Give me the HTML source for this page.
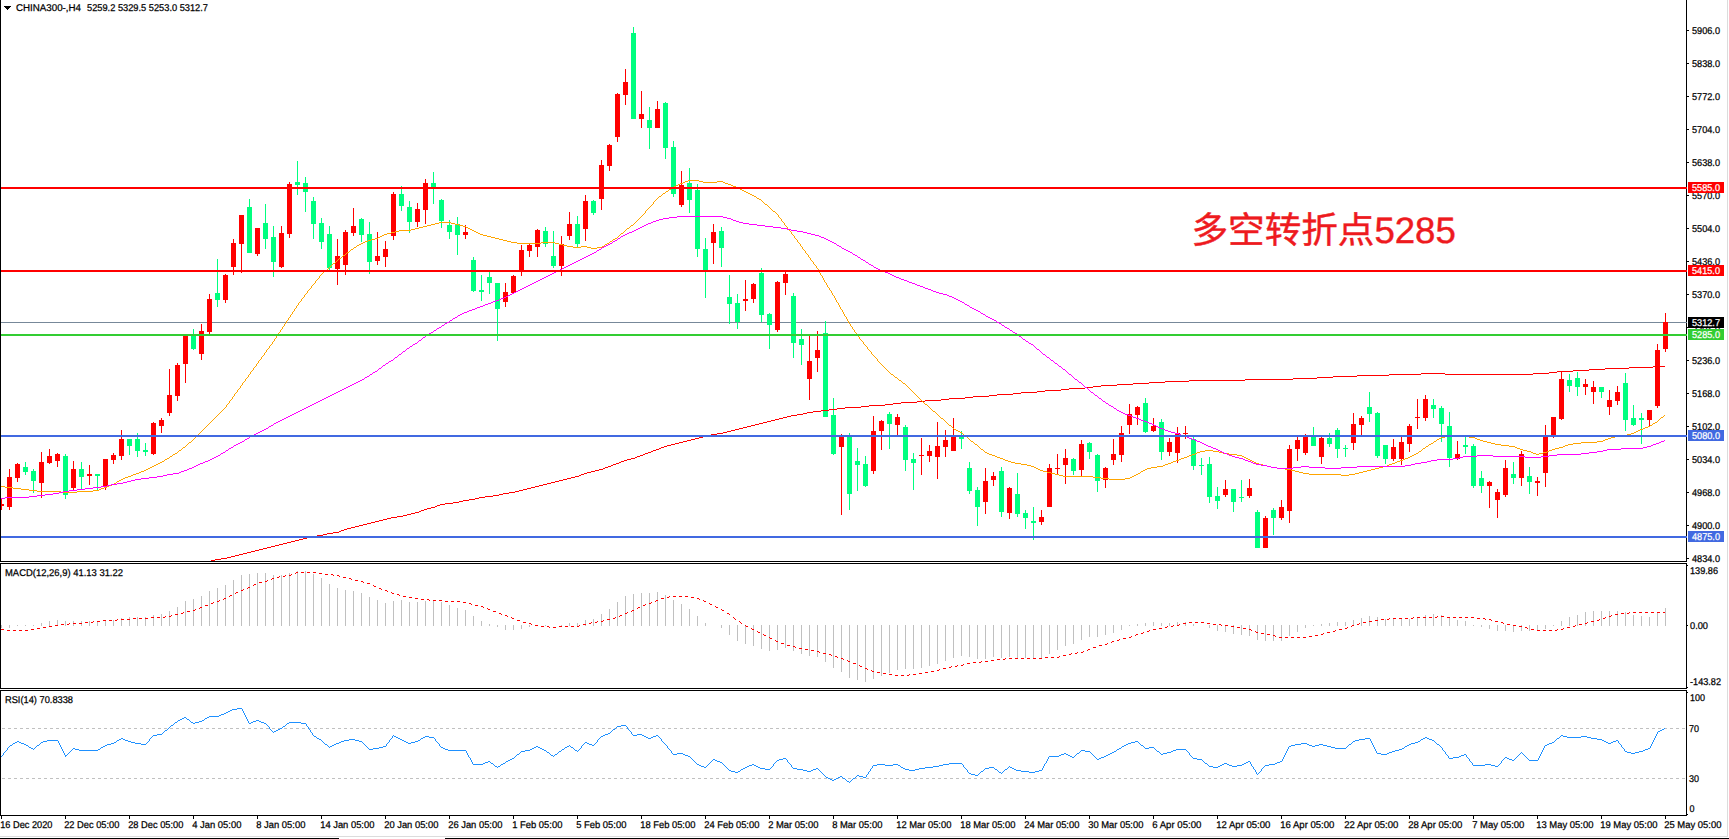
<!DOCTYPE html>
<html lang="zh"><head><meta charset="utf-8"><title>CHINA300 H4</title>
<style>html,body{margin:0;padding:0;background:#fff;overflow:hidden}svg{display:block}text{font-family:"Liberation Sans","Noto Sans CJK SC",sans-serif;font-size:9.8px;fill:#000;stroke:#000;stroke-width:.25px;text-rendering:geometricPrecision}.w{fill:#fff;stroke:#fff}.note{font-family:"Liberation Sans","Noto Sans CJK SC",sans-serif;font-size:36.6px;fill:#ee1a1e;font-weight:400;stroke:#ee1a1e;stroke-width:.45px}</style></head><body>
<svg width="1729" height="839" viewBox="0 0 1729 839">
<rect x="0" y="0" width="1729" height="839" fill="#fff"/>
<defs><clipPath id="cm"><rect x="1" y="0" width="1685" height="561"/></clipPath><clipPath id="cd"><rect x="1" y="564" width="1685" height="124"/></clipPath><clipPath id="cr"><rect x="1" y="691" width="1685" height="124"/></clipPath></defs>
<g clip-path="url(#cm)" shape-rendering="crispEdges">
<rect x="1" y="322" width="1685" height="1" fill="#778899"/>
<path fill="#00ff7f" d="M25 462h1v13h-1zM23 467h5v5h-5zM33 469h1v24h-1zM31 471h5v10h-5zM65 454h1v45h-1zM63 456h5v39h-5zM81 462h1v27h-1zM79 469h5v8h-5zM97 474h1v16h-1zM95 474h5v2h-5zM129 439h1v16h-1zM127 439h5v7h-5zM137 433h1v24h-1zM135 439h5v12h-5zM145 443h1v13h-1zM143 450h5v2h-5zM193 329h1v21h-1zM191 334h5v15h-5zM217 259h1v48h-1zM215 293h5v7h-5zM249 199h1v54h-1zM247 207h5v46h-5zM265 204h1v45h-1zM263 223h5v16h-5zM273 226h1v51h-1zM271 237h5v25h-5zM297 161h1v34h-1zM295 182h5v3h-5zM305 177h1v35h-1zM303 183h5v9h-5zM313 197h1v42h-1zM311 201h5v23h-5zM321 218h1v31h-1zM319 223h5v19h-5zM329 226h1v44h-1zM327 234h5v34h-5zM361 218h1v24h-1zM359 219h5v16h-5zM369 222h1v52h-1zM367 234h5v28h-5zM401 186h1v25h-1zM399 194h5v12h-5zM409 201h1v32h-1zM407 207h5v15h-5zM433 172h1v32h-1zM431 183h5v5h-5zM441 199h1v29h-1zM439 200h5v21h-5zM449 220h1v19h-1zM447 225h5v7h-5zM457 217h1v38h-1zM455 224h5v11h-5zM473 257h1v35h-1zM471 260h5v31h-5zM481 275h1v26h-1zM479 290h5v2h-5zM489 272h1v22h-1zM487 277h5v6h-5zM497 283h1v58h-1zM495 283h5v26h-5zM545 227h1v20h-1zM543 231h5v13h-5zM553 231h1v37h-1zM551 256h5v10h-5zM577 216h1v31h-1zM575 224h5v20h-5zM593 200h1v15h-1zM591 201h5v12h-5zM633 27h1v92h-1zM631 33h5v86h-5zM649 107h1v42h-1zM647 120h5v8h-5zM665 102h1v57h-1zM663 103h5v45h-5zM673 141h1v56h-1zM671 147h5v47h-5zM689 168h1v45h-1zM687 183h5v17h-5zM697 184h1v73h-1zM695 190h5v59h-5zM705 238h1v60h-1zM703 249h5v21h-5zM721 227h1v40h-1zM719 231h5v17h-5zM729 275h1v49h-1zM727 297h5v7h-5zM737 294h1v35h-1zM735 303h5v19h-5zM761 268h1v54h-1zM759 273h5v42h-5zM769 313h1v36h-1zM767 314h5v11h-5zM793 293h1v65h-1zM791 296h5v47h-5zM801 329h1v36h-1zM799 339h5v6h-5zM825 321h1v96h-1zM823 333h5v84h-5zM833 398h1v57h-1zM831 415h5v39h-5zM849 433h1v77h-1zM847 435h5v59h-5zM857 448h1v43h-1zM855 461h5v4h-5zM865 456h1v31h-1zM863 464h5v22h-5zM889 412h1v37h-1zM887 414h5v10h-5zM905 425h1v46h-1zM903 427h5v33h-5zM913 453h1v37h-1zM911 459h5v4h-5zM961 431h1v18h-1zM959 436h5v3h-5zM969 462h1v32h-1zM967 468h5v23h-5zM977 487h1v39h-1zM975 490h5v17h-5zM1001 467h1v50h-1zM999 471h5v41h-5zM1017 473h1v44h-1zM1015 494h5v20h-5zM1025 510h1v19h-1zM1023 513h5v5h-5zM1033 507h1v33h-1zM1031 521h5v2h-5zM1073 458h1v17h-1zM1071 459h5v12h-5zM1089 442h1v17h-1zM1087 443h5v9h-5zM1097 454h1v38h-1zM1095 455h5v26h-5zM1145 398h1v35h-1zM1143 403h5v29h-5zM1161 419h1v41h-1zM1159 422h5v30h-5zM1193 437h1v33h-1zM1191 439h5v27h-5zM1201 458h1v17h-1zM1199 465h5v1h-5zM1209 457h1v46h-1zM1207 464h5v33h-5zM1217 487h1v22h-1zM1215 496h5v5h-5zM1233 489h1v23h-1zM1231 489h5v13h-5zM1241 480h1v22h-1zM1239 497h5v1h-5zM1257 510h1v38h-1zM1255 512h5v36h-5zM1273 508h1v27h-1zM1271 510h5v8h-5zM1313 427h1v19h-1zM1311 435h5v11h-5zM1329 433h1v14h-1zM1327 438h5v6h-5zM1337 428h1v30h-1zM1335 430h5v19h-5zM1345 445h1v12h-1zM1343 448h5v1h-5zM1369 392h1v30h-1zM1367 407h5v7h-5zM1377 412h1v46h-1zM1375 413h5v43h-5zM1385 445h1v19h-1zM1383 445h5v14h-5zM1433 399h1v19h-1zM1431 405h5v4h-5zM1441 406h1v36h-1zM1439 408h5v16h-5zM1449 412h1v55h-1zM1447 426h5v32h-5zM1465 437h1v17h-1zM1463 445h5v2h-5zM1473 444h1v44h-1zM1471 446h5v40h-5zM1481 471h1v22h-1zM1479 478h5v8h-5zM1513 462h1v22h-1zM1511 474h5v4h-5zM1529 467h1v27h-1zM1527 476h5v6h-5zM1569 374h1v18h-1zM1567 380h5v6h-5zM1577 372h1v24h-1zM1575 378h5v9h-5zM1601 387h1v11h-1zM1599 387h5v5h-5zM1625 373h1v58h-1zM1623 383h5v37h-5zM1633 405h1v21h-1zM1631 418h5v7h-5zM1641 413h1v31h-1zM1639 418h5v2h-5z"/>
<path fill="#ff0000" d="M1 499h1v11h-1zM-1 504h5v2h-5zM9 469h1v41h-1zM7 477h5v30h-5zM17 463h1v19h-1zM15 464h5v14h-5zM41 452h1v46h-1zM39 462h5v21h-5zM49 449h1v15h-1zM47 456h5v7h-5zM57 453h1v14h-1zM55 454h5v7h-5zM73 461h1v29h-1zM71 469h5v19h-5zM89 465h1v20h-1zM87 474h5v2h-5zM105 459h1v31h-1zM103 459h5v28h-5zM113 453h1v11h-1zM111 455h5v5h-5zM121 430h1v30h-1zM119 439h5v17h-5zM153 422h1v33h-1zM151 423h5v31h-5zM161 418h1v15h-1zM159 420h5v6h-5zM169 369h1v47h-1zM167 395h5v18h-5zM177 363h1v38h-1zM175 365h5v31h-5zM185 334h1v49h-1zM183 334h5v30h-5zM201 324h1v36h-1zM199 331h5v23h-5zM209 294h1v40h-1zM207 299h5v33h-5zM225 274h1v29h-1zM223 275h5v25h-5zM233 239h1v36h-1zM231 243h5v24h-5zM241 215h1v58h-1zM239 215h5v29h-5zM257 228h1v28h-1zM255 228h5v26h-5zM281 226h1v42h-1zM279 233h5v34h-5zM289 182h1v56h-1zM287 184h5v50h-5zM337 239h1v46h-1zM335 256h5v13h-5zM345 230h1v45h-1zM343 232h5v33h-5zM353 208h1v28h-1zM351 226h5v7h-5zM377 232h1v33h-1zM375 256h5v5h-5zM385 241h1v26h-1zM383 249h5v8h-5zM393 192h1v48h-1zM391 194h5v42h-5zM417 203h1v24h-1zM415 209h5v13h-5zM425 179h1v45h-1zM423 183h5v27h-5zM465 225h1v14h-1zM463 232h5v3h-5zM505 283h1v24h-1zM503 292h5v10h-5zM513 275h1v18h-1zM511 276h5v17h-5zM521 245h1v31h-1zM519 250h5v20h-5zM529 243h1v14h-1zM527 245h5v6h-5zM537 229h1v28h-1zM535 230h5v17h-5zM561 236h1v40h-1zM559 244h5v22h-5zM569 212h1v28h-1zM567 224h5v12h-5zM585 195h1v46h-1zM583 201h5v28h-5zM601 160h1v50h-1zM599 165h5v34h-5zM609 144h1v27h-1zM607 145h5v21h-5zM617 93h1v49h-1zM615 94h5v43h-5zM625 69h1v36h-1zM623 82h5v13h-5zM641 91h1v37h-1zM639 114h5v5h-5zM657 101h1v27h-1zM655 109h5v19h-5zM681 171h1v36h-1zM679 185h5v20h-5zM713 224h1v40h-1zM711 232h5v11h-5zM745 280h1v31h-1zM743 299h5v2h-5zM753 283h1v20h-1zM751 284h5v15h-5zM777 281h1v51h-1zM775 282h5v48h-5zM785 272h1v23h-1zM783 274h5v9h-5zM809 334h1v66h-1zM807 361h5v18h-5zM817 331h1v41h-1zM815 350h5v8h-5zM841 434h1v81h-1zM839 435h5v12h-5zM873 416h1v58h-1zM871 431h5v40h-5zM881 420h1v30h-1zM879 421h5v10h-5zM897 414h1v21h-1zM895 417h5v8h-5zM921 438h1v37h-1zM919 455h5v1h-5zM929 445h1v17h-1zM927 451h5v5h-5zM937 422h1v57h-1zM935 446h5v11h-5zM945 430h1v27h-1zM943 440h5v7h-5zM953 418h1v33h-1zM951 435h5v16h-5zM985 468h1v46h-1zM983 481h5v21h-5zM993 472h1v14h-1zM991 476h5v4h-5zM1009 487h1v32h-1zM1007 488h5v25h-5zM1041 510h1v15h-1zM1039 517h5v5h-5zM1049 464h1v43h-1zM1047 468h5v39h-5zM1057 454h1v20h-1zM1055 468h5v1h-5zM1065 449h1v35h-1zM1063 458h5v7h-5zM1081 440h1v36h-1zM1079 444h5v26h-5zM1105 467h1v21h-1zM1103 468h5v12h-5zM1113 439h1v26h-1zM1111 454h5v6h-5zM1121 426h1v36h-1zM1119 433h5v22h-5zM1129 404h1v30h-1zM1127 414h5v11h-5zM1137 406h1v19h-1zM1135 407h5v8h-5zM1153 418h1v14h-1zM1151 426h5v5h-5zM1169 438h1v18h-1zM1167 442h5v10h-5zM1177 427h1v36h-1zM1175 433h5v20h-5zM1185 426h1v13h-1zM1183 433h5v1h-5zM1225 480h1v17h-1zM1223 489h5v6h-5zM1249 479h1v19h-1zM1247 488h5v8h-5zM1265 516h1v32h-1zM1263 518h5v30h-5zM1281 500h1v20h-1zM1279 507h5v11h-5zM1289 445h1v78h-1zM1287 449h5v62h-5zM1297 437h1v24h-1zM1295 440h5v9h-5zM1305 434h1v21h-1zM1303 435h5v18h-5zM1321 436h1v28h-1zM1319 438h5v19h-5zM1353 413h1v37h-1zM1351 424h5v19h-5zM1361 416h1v19h-1zM1359 418h5v7h-5zM1393 439h1v22h-1zM1391 447h5v12h-5zM1401 437h1v28h-1zM1399 442h5v17h-5zM1409 424h1v28h-1zM1407 426h5v18h-5zM1417 399h1v30h-1zM1415 417h5v1h-5zM1425 395h1v26h-1zM1423 399h5v19h-5zM1457 441h1v19h-1zM1455 454h5v5h-5zM1489 481h1v27h-1zM1487 482h5v4h-5zM1497 489h1v29h-1zM1495 492h5v8h-5zM1505 460h1v37h-1zM1503 468h5v27h-5zM1521 451h1v35h-1zM1519 454h5v24h-5zM1537 477h1v19h-1zM1535 481h5v2h-5zM1545 425h1v62h-1zM1543 436h5v37h-5zM1553 417h1v21h-1zM1551 417h5v19h-5zM1561 371h1v49h-1zM1559 379h5v40h-5zM1585 379h1v16h-1zM1583 384h5v3h-5zM1593 381h1v23h-1zM1591 387h5v5h-5zM1609 390h1v25h-1zM1607 400h5v7h-5zM1617 386h1v19h-1zM1615 392h5v9h-5zM1649 410h1v16h-1zM1647 410h5v10h-5zM1657 344h1v64h-1zM1655 350h5v56h-5zM1665 313h1v39h-1zM1663 322h5v27h-5z"/>
<path fill="#ff0000" d="M813 411h8v1h-8zM479 497h6v1h-6zM375 521h4v1h-4zM415 512h4v1h-4zM1133 383h16v1h-16zM997 394h16v1h-16zM1037 391h8v1h-8zM965 397h8v1h-8zM1389 374h32v1h-32zM1445 374h88v1h-88zM925 400h16v1h-16zM1421 373h24v1h-24zM1533 373h16v1h-16zM845 407h16v1h-16zM1149 382h16v1h-16zM1605 368h24v1h-24zM1189 380h56v1h-56zM869 405h16v1h-16zM403 515h4v1h-4zM837 408h8v1h-8zM635 457h2v1h-2zM539 485h4v1h-4zM661 447h3v1h-3zM1333 376h24v1h-24zM287 542h4v1h-4zM1101 385h16v1h-16zM624 460h3v1h-3zM527 488h4v1h-4zM1557 371h16v1h-16zM485 496h8v1h-8zM351 527h4v1h-4zM1245 379h48v1h-48zM619 462h2v1h-2zM1165 381h24v1h-24zM651 451h2v1h-2zM1013 393h8v1h-8zM515 491h4v1h-4zM1629 367h24v1h-24zM885 404h8v1h-8zM341 530h3v1h-3zM608 466h3v1h-3zM327 533h6v1h-6zM1573 370h16v1h-16zM797 414h6v1h-6zM1069 388h16v1h-16zM973 396h16v1h-16zM653 450h3v1h-3zM283 543h4v1h-4zM1045 390h16v1h-16zM941 399h8v1h-8zM1293 378h24v1h-24zM783 417h4v1h-4zM271 546h4v1h-4zM239 554h4v1h-4zM611 465h2v1h-2zM643 454h2v1h-2zM771 420h4v1h-4zM807 412h6v1h-6zM637 456h3v1h-3zM735 429h4v1h-4zM227 557h4v1h-4zM291 541h4v1h-4zM599 469h4v1h-4zM463 500h6v1h-6zM221 558h6v1h-6zM791 415h6v1h-6zM627 459h4v1h-4zM901 402h16v1h-16zM723 432h4v1h-4zM787 416h4v1h-4zM755 424h4v1h-4zM587 472h4v1h-4zM821 410h8v1h-8zM445 503h8v1h-8zM208 561h3v1h-3zM243 553h4v1h-4zM711 434h6v1h-6zM640 455h3v1h-3zM699 437h4v1h-4zM949 398h16v1h-16zM459 501h4v1h-4zM427 508h4v1h-4zM861 406h8v1h-8zM387 518h4v1h-4zM687 440h4v1h-4zM421 510h3v1h-3zM559 480h4v1h-4zM1589 369h16v1h-16zM1357 375h32v1h-32zM675 443h4v1h-4zM1117 384h16v1h-16zM547 483h4v1h-4zM1085 387h8v1h-8zM917 401h8v1h-8zM739 428h4v1h-4zM535 486h4v1h-4zM503 493h6v1h-6zM363 524h4v1h-4zM829 409h8v1h-8zM523 489h4v1h-4zM509 492h6v1h-6zM303 538h4v1h-4zM1653 366h12v1h-12zM333 532h6v1h-6zM397 516h6v1h-6zM355 526h4v1h-4zM1021 392h16v1h-16zM279 544h4v1h-4zM215 559h6v1h-6zM779 418h4v1h-4zM893 403h8v1h-8zM339 531h2v1h-2zM743 427h4v1h-4zM767 421h4v1h-4zM437 505h3v1h-3zM267 547h4v1h-4zM989 395h8v1h-8zM731 430h4v1h-4zM595 470h4v1h-4zM255 550h4v1h-4zM584 473h3v1h-3zM205 562h3v1h-3zM231 556h4v1h-4zM435 506h2v1h-2zM359 525h4v1h-4zM1317 377h16v1h-16zM717 433h6v1h-6zM1093 386h8v1h-8zM411 513h4v1h-4zM475 498h4v1h-4zM371 522h4v1h-4zM499 494h4v1h-4zM659 448h2v1h-2zM1061 389h8v1h-8zM683 441h4v1h-4zM347 528h4v1h-4zM551 482h4v1h-4zM605 467h3v1h-3zM323 534h4v1h-4zM247 552h4v1h-4zM311 536h6v1h-6zM707 435h4v1h-4zM631 458h4v1h-4zM695 438h4v1h-4zM567 478h4v1h-4zM759 423h4v1h-4zM424 509h3v1h-3zM555 481h4v1h-4zM519 490h4v1h-4zM616 463h3v1h-3zM469 499h6v1h-6zM671 444h4v1h-4zM299 539h4v1h-4zM603 468h2v1h-2zM763 422h4v1h-4zM648 452h3v1h-3zM275 545h4v1h-4zM201 564h2v1h-2zM803 413h4v1h-4zM263 548h4v1h-4zM251 551h4v1h-4zM591 471h4v1h-4zM747 426h4v1h-4zM581 474h3v1h-3zM203 563h2v1h-2zM391 517h6v1h-6zM493 495h6v1h-6zM1549 372h8v1h-8zM407 514h4v1h-4zM571 477h4v1h-4zM656 449h3v1h-3zM383 519h4v1h-4zM613 464h3v1h-3zM211 560h4v1h-4zM440 504h5v1h-5zM431 507h4v1h-4zM691 439h4v1h-4zM453 502h6v1h-6zM621 461h3v1h-3zM679 442h4v1h-4zM703 436h4v1h-4zM667 445h4v1h-4zM307 537h4v1h-4zM295 540h4v1h-4zM317 535h6v1h-6zM259 549h4v1h-4zM235 555h4v1h-4zM543 484h4v1h-4zM531 487h4v1h-4zM645 453h3v1h-3zM775 419h4v1h-4zM751 425h4v1h-4zM579 475h2v1h-2zM727 431h4v1h-4zM664 446h3v1h-3zM419 511h2v1h-2zM379 520h4v1h-4zM367 523h4v1h-4zM344 529h3v1h-3zM575 476h4v1h-4zM563 479h4v1h-4z"/>
<path fill="#ffa500" d="M285 323h1v1h-1zM849 323h1v1h-1zM133 474h3v1h-3zM1055 474h4v1h-4zM1136 474h2v1h-2zM1309 474h32v1h-32zM1349 474h6v1h-6zM165 459h2v1h-2zM1003 459h2v1h-2zM1179 459h2v1h-2zM1248 459h2v1h-2zM1403 459h2v1h-2zM384 234h3v1h-3zM480 234h3v1h-3zM620 234h1v1h-1zM792 234h1v1h-1zM267 349h1v1h-1zM868 349h1v1h-1zM186 445h1v1h-1zM977 445h1v1h-1zM1428 445h1v1h-1zM1501 445h8v1h-8zM1565 445h3v1h-3zM281 329h1v1h-1zM853 329h1v1h-1zM150 467h2v1h-2zM1034 467h2v1h-2zM1151 467h6v1h-6zM1271 467h6v1h-6zM1379 467h4v1h-4zM139 472h2v1h-2zM1047 472h4v1h-4zM1140 472h1v1h-1zM1299 472h4v1h-4zM1359 472h4v1h-4zM192 440h1v1h-1zM970 440h1v1h-1zM1436 440h1v1h-1zM1480 440h3v1h-3zM1603 440h2v1h-2zM315 281h1v1h-1zM824 281h1v1h-1zM322 273h1v1h-1zM820 273h1v1h-1zM683 182h2v1h-2zM703 182h14v1h-14zM723 182h2v1h-2zM330 266h1v1h-1zM816 266h1v1h-1zM154 465h2v1h-2zM1027 465h4v1h-4zM1163 465h2v1h-2zM1263 465h4v1h-4zM1387 465h2v1h-2zM229 402h1v1h-1zM923 402h1v1h-1zM169 457h1v1h-1zM997 457h3v1h-3zM1184 457h3v1h-3zM1244 457h2v1h-2zM1408 457h2v1h-2zM125 477h3v1h-3zM1093 477h8v1h-8zM1130 477h2v1h-2zM195 437h1v1h-1zM967 437h1v1h-1zM1441 437h4v1h-4zM1469 437h6v1h-6zM1611 437h4v1h-4zM13 488h8v1h-8zM101 488h3v1h-3zM688 180h11v1h-11zM354 247h2v1h-2zM573 247h8v1h-8zM587 247h4v1h-4zM597 247h5v1h-5zM802 247h1v1h-1zM148 468h2v1h-2zM1036 468h2v1h-2zM1147 468h4v1h-4zM1277 468h8v1h-8zM1375 468h4v1h-4zM363 242h2v1h-2zM511 242h6v1h-6zM541 242h14v1h-14zM609 242h1v1h-1zM798 242h1v1h-1zM646 210h1v1h-1zM772 210h1v1h-1zM144 470h2v1h-2zM1040 470h3v1h-3zM1143 470h2v1h-2zM1291 470h4v1h-4zM1367 470h4v1h-4zM128 476h3v1h-3zM1063 476h30v1h-30zM1132 476h2v1h-2zM152 466h2v1h-2zM1031 466h3v1h-3zM1157 466h6v1h-6zM1267 466h4v1h-4zM1383 466h4v1h-4zM294 309h1v1h-1zM841 309h1v1h-1zM655 200h1v1h-1zM761 200h1v1h-1zM645 211h1v1h-1zM773 211h2v1h-2zM123 478h2v1h-2zM1101 478h8v1h-8zM1125 478h5v1h-5zM395 231h4v1h-4zM474 231h2v1h-2zM624 231h1v1h-1zM790 231h1v1h-1zM199 433h1v1h-1zM962 433h1v1h-1zM1631 433h3v1h-3zM294 310h1v1h-1zM842 310h1v1h-1zM378 237h2v1h-2zM491 237h4v1h-4zM617 237h1v1h-1zM794 237h1v1h-1zM185 446h1v1h-1zM978 446h1v1h-1zM1426 446h2v1h-2zM1509 446h6v1h-6zM1563 446h2v1h-2zM196 436h1v1h-1zM965 436h2v1h-2zM1445 436h8v1h-8zM1461 436h8v1h-8zM1615 436h6v1h-6zM172 455h1v1h-1zM992 455h3v1h-3zM1189 455h3v1h-3zM1237 455h5v1h-5zM1412 455h2v1h-2zM361 243h2v1h-2zM517 243h24v1h-24zM555 243h4v1h-4zM607 243h2v1h-2zM799 243h1v1h-1zM298 303h1v1h-1zM838 303h1v1h-1zM177 452h1v1h-1zM985 452h2v1h-2zM1197 452h3v1h-3zM1219 452h4v1h-4zM1418 452h1v1h-1zM1531 452h2v1h-2zM1543 452h4v1h-4zM189 442h2v1h-2zM973 442h1v1h-1zM1433 442h1v1h-1zM1487 442h4v1h-4zM1581 442h16v1h-16zM387 233h4v1h-4zM478 233h2v1h-2zM621 233h2v1h-2zM791 233h1v1h-1zM246 378h1v1h-1zM897 378h1v1h-1zM160 462h2v1h-2zM1011 462h4v1h-4zM1171 462h2v1h-2zM1254 462h2v1h-2zM1395 462h2v1h-2zM203 429h1v1h-1zM954 429h2v1h-2zM1640 429h3v1h-3zM357 245h2v1h-2zM563 245h4v1h-4zM604 245h1v1h-1zM800 245h1v1h-1zM167 458h2v1h-2zM1000 458h3v1h-3zM1181 458h3v1h-3zM1246 458h2v1h-2zM1405 458h3v1h-3zM427 225h4v1h-4zM459 225h4v1h-4zM631 225h2v1h-2zM785 225h1v1h-1zM205 427h1v1h-1zM952 427h1v1h-1zM1645 427h3v1h-3zM156 464h2v1h-2zM1021 464h6v1h-6zM1165 464h3v1h-3zM1259 464h4v1h-4zM1389 464h3v1h-3zM191 441h1v1h-1zM971 441h2v1h-2zM1434 441h2v1h-2zM1483 441h4v1h-4zM1597 441h6v1h-6zM308 290h1v1h-1zM830 290h1v1h-1zM61 492h16v1h-16zM304 295h1v1h-1zM833 295h1v1h-1zM170 456h2v1h-2zM995 456h2v1h-2zM1187 456h2v1h-2zM1242 456h2v1h-2zM1410 456h2v1h-2zM304 296h1v1h-1zM834 296h1v1h-1zM375 238h3v1h-3zM495 238h4v1h-4zM615 238h2v1h-2zM795 238h1v1h-1zM158 463h2v1h-2zM1015 463h6v1h-6zM1168 463h3v1h-3zM1256 463h3v1h-3zM1392 463h3v1h-3zM663 193h2v1h-2zM748 193h2v1h-2zM669 189h2v1h-2zM740 189h2v1h-2zM182 448h1v1h-1zM980 448h1v1h-1zM1423 448h2v1h-2zM1517 448h3v1h-3zM1555 448h4v1h-4zM668 190h1v1h-1zM742 190h2v1h-2zM175 453h2v1h-2zM987 453h2v1h-2zM1195 453h2v1h-2zM1223 453h6v1h-6zM1416 453h2v1h-2zM1533 453h3v1h-3zM1539 453h4v1h-4zM674 186h2v1h-2zM733 186h3v1h-3zM234 394h1v1h-1zM915 394h1v1h-1zM350 250h1v1h-1zM804 250h1v1h-1zM279 332h1v1h-1zM855 332h1v1h-1zM680 183h3v1h-3zM725 183h3v1h-3zM336 261h1v1h-1zM812 261h1v1h-1zM419 227h4v1h-4zM466 227h2v1h-2zM629 227h1v1h-1zM787 227h1v1h-1zM342 256h1v1h-1zM808 256h1v1h-1zM275 338h1v1h-1zM859 338h1v1h-1zM29 490h8v1h-8zM93 490h6v1h-6zM178 451h1v1h-1zM984 451h1v1h-1zM1200 451h5v1h-5zM1213 451h6v1h-6zM1419 451h2v1h-2zM1527 451h4v1h-4zM1547 451h2v1h-2zM136 473h3v1h-3zM1051 473h4v1h-4zM1138 473h2v1h-2zM1303 473h6v1h-6zM1355 473h4v1h-4zM238 389h1v1h-1zM910 389h1v1h-1zM319 276h1v1h-1zM822 276h1v1h-1zM181 449h1v1h-1zM981 449h2v1h-2zM1422 449h1v1h-1zM1520 449h3v1h-3zM1552 449h3v1h-3zM671 188h2v1h-2zM738 188h2v1h-2zM206 426h1v1h-1zM951 426h1v1h-1zM1648 426h2v1h-2zM210 422h1v1h-1zM946 422h1v1h-1zM1655 422h2v1h-2zM415 228h4v1h-4zM468 228h2v1h-2zM627 228h2v1h-2zM787 228h1v1h-1zM225 407h1v1h-1zM929 407h1v1h-1zM278 333h1v1h-1zM856 333h1v1h-1zM365 241h3v1h-3zM507 241h4v1h-4zM610 241h2v1h-2zM797 241h1v1h-1zM399 230h12v1h-12zM472 230h2v1h-2zM625 230h1v1h-1zM789 230h1v1h-1zM288 319h1v1h-1zM847 319h1v1h-1zM292 312h1v1h-1zM843 312h1v1h-1zM200 432h1v1h-1zM960 432h2v1h-2zM1634 432h2v1h-2zM371 239h4v1h-4zM499 239h4v1h-4zM613 239h2v1h-2zM796 239h1v1h-1zM343 255h2v1h-2zM808 255h1v1h-1zM162 461h2v1h-2zM1008 461h3v1h-3zM1173 461h3v1h-3zM1252 461h2v1h-2zM1397 461h3v1h-3zM431 224h4v1h-4zM455 224h4v1h-4zM633 224h1v1h-1zM784 224h1v1h-1zM209 423h1v1h-1zM947 423h1v1h-1zM1653 423h2v1h-2zM637 220h1v1h-1zM781 220h1v1h-1zM197 435h1v1h-1zM964 435h1v1h-1zM1453 435h8v1h-8zM1621 435h6v1h-6zM657 198h1v1h-1zM757 198h2v1h-2zM141 471h3v1h-3zM1043 471h4v1h-4zM1141 471h2v1h-2zM1295 471h4v1h-4zM1363 471h4v1h-4zM261 358h1v1h-1zM876 358h1v1h-1zM1 486h4v1h-4zM107 486h2v1h-2zM260 359h1v1h-1zM877 359h1v1h-1zM351 249h2v1h-2zM803 249h1v1h-1zM194 438h1v1h-1zM968 438h1v1h-1zM1439 438h2v1h-2zM1475 438h2v1h-2zM1608 438h3v1h-3zM193 439h1v1h-1zM969 439h1v1h-1zM1437 439h2v1h-2zM1477 439h3v1h-3zM1605 439h3v1h-3zM649 207h1v1h-1zM769 207h1v1h-1zM146 469h2v1h-2zM1038 469h2v1h-2zM1145 469h2v1h-2zM1285 469h6v1h-6zM1371 469h4v1h-4zM173 454h2v1h-2zM989 454h3v1h-3zM1192 454h3v1h-3zM1229 454h8v1h-8zM1414 454h2v1h-2zM1536 454h3v1h-3zM272 342h1v1h-1zM863 342h1v1h-1zM638 219h1v1h-1zM781 219h1v1h-1zM644 213h1v1h-1zM776 213h1v1h-1zM215 417h1v1h-1zM940 417h1v1h-1zM1661 417h2v1h-2zM353 248h1v1h-1zM591 248h6v1h-6zM802 248h1v1h-1zM268 348h1v1h-1zM867 348h1v1h-1zM338 259h1v1h-1zM810 259h1v1h-1zM678 184h2v1h-2zM728 184h3v1h-3zM237 391h1v1h-1zM912 391h1v1h-1zM311 287h1v1h-1zM828 287h1v1h-1zM236 392h1v1h-1zM913 392h1v1h-1zM204 428h1v1h-1zM953 428h1v1h-1zM1643 428h2v1h-2zM435 223h4v1h-4zM451 223h4v1h-4zM634 223h1v1h-1zM784 223h1v1h-1zM187 444h1v1h-1zM975 444h2v1h-2zM1429 444h2v1h-2zM1495 444h6v1h-6zM1568 444h5v1h-5zM216 416h1v1h-1zM939 416h1v1h-1zM1663 416h1v1h-1zM659 196h2v1h-2zM754 196h2v1h-2zM121 479h2v1h-2zM1109 479h16v1h-16zM256 364h1v1h-1zM881 364h1v1h-1zM676 185h2v1h-2zM731 185h2v1h-2zM251 371h1v1h-1zM888 371h1v1h-1zM119 480h2v1h-2zM212 420h1v1h-1zM944 420h1v1h-1zM1658 420h1v1h-1zM232 398h1v1h-1zM919 398h1v1h-1zM5 487h8v1h-8zM104 487h3v1h-3zM325 270h2v1h-2zM818 270h1v1h-1zM290 316h1v1h-1zM845 316h1v1h-1zM391 232h4v1h-4zM476 232h2v1h-2zM623 232h1v1h-1zM791 232h1v1h-1zM37 491h24v1h-24zM77 491h16v1h-16zM380 236h2v1h-2zM487 236h4v1h-4zM618 236h1v1h-1zM794 236h1v1h-1zM219 413h1v1h-1zM936 413h1v1h-1zM183 447h2v1h-2zM979 447h1v1h-1zM1425 447h1v1h-1zM1515 447h2v1h-2zM1559 447h4v1h-4zM250 373h1v1h-1zM890 373h1v1h-1zM235 393h1v1h-1zM914 393h1v1h-1zM276 337h1v1h-1zM859 337h1v1h-1zM359 244h2v1h-2zM559 244h4v1h-4zM605 244h2v1h-2zM800 244h1v1h-1zM423 226h4v1h-4zM463 226h3v1h-3zM630 226h1v1h-1zM786 226h1v1h-1zM230 400h1v1h-1zM921 400h1v1h-1zM283 326h1v1h-1zM851 326h1v1h-1zM333 263h2v1h-2zM813 263h1v1h-1zM266 351h1v1h-1zM870 351h1v1h-1zM673 187h1v1h-1zM736 187h2v1h-2zM227 404h1v1h-1zM925 404h2v1h-2zM293 311h1v1h-1zM842 311h1v1h-1zM411 229h4v1h-4zM470 229h2v1h-2zM626 229h1v1h-1zM788 229h1v1h-1zM439 222h12v1h-12zM635 222h1v1h-1zM783 222h1v1h-1zM645 212h1v1h-1zM775 212h1v1h-1zM643 214h1v1h-1zM777 214h1v1h-1zM341 257h1v1h-1zM809 257h1v1h-1zM179 450h2v1h-2zM983 450h1v1h-1zM1205 450h8v1h-8zM1421 450h1v1h-1zM1523 450h4v1h-4zM1549 450h3v1h-3zM207 425h1v1h-1zM949 425h2v1h-2zM1650 425h2v1h-2zM201 431h1v1h-1zM958 431h2v1h-2zM1636 431h2v1h-2zM317 279h1v1h-1zM823 279h1v1h-1zM313 284h1v1h-1zM826 284h1v1h-1zM648 208h1v1h-1zM770 208h1v1h-1zM273 341h1v1h-1zM862 341h1v1h-1zM647 209h1v1h-1zM771 209h1v1h-1zM666 191h2v1h-2zM744 191h2v1h-2zM321 274h1v1h-1zM820 274h1v1h-1zM290 315h1v1h-1zM844 315h1v1h-1zM287 320h1v1h-1zM847 320h1v1h-1zM164 460h1v1h-1zM1005 460h3v1h-3zM1176 460h3v1h-3zM1250 460h2v1h-2zM1400 460h3v1h-3zM316 280h1v1h-1zM824 280h1v1h-1zM685 181h3v1h-3zM699 181h4v1h-4zM717 181h6v1h-6zM332 264h1v1h-1zM814 264h1v1h-1zM264 354h1v1h-1zM872 354h1v1h-1zM131 475h2v1h-2zM1059 475h4v1h-4zM1134 475h2v1h-2zM1341 475h8v1h-8zM226 406h1v1h-1zM928 406h1v1h-1zM261 357h1v1h-1zM875 357h1v1h-1zM305 294h1v1h-1zM832 294h1v1h-1zM368 240h3v1h-3zM503 240h4v1h-4zM612 240h1v1h-1zM797 240h1v1h-1zM301 300h1v1h-1zM836 300h1v1h-1zM214 418h1v1h-1zM941 418h2v1h-2zM1660 418h1v1h-1zM642 215h1v1h-1zM778 215h1v1h-1zM252 370h1v1h-1zM887 370h1v1h-1zM116 482h1v1h-1zM315 282h1v1h-1zM825 282h1v1h-1zM188 443h1v1h-1zM974 443h1v1h-1zM1431 443h2v1h-2zM1491 443h4v1h-4zM1573 443h8v1h-8zM255 366h1v1h-1zM883 366h1v1h-1zM307 291h1v1h-1zM831 291h1v1h-1zM327 269h1v1h-1zM818 269h1v1h-1zM240 386h1v1h-1zM907 386h1v1h-1zM289 317h1v1h-1zM846 317h1v1h-1zM198 434h1v1h-1zM963 434h1v1h-1zM1627 434h4v1h-4zM117 481h2v1h-2zM298 304h1v1h-1zM838 304h1v1h-1zM211 421h1v1h-1zM945 421h1v1h-1zM1657 421h1v1h-1zM231 399h1v1h-1zM920 399h1v1h-1zM262 356h1v1h-1zM874 356h1v1h-1zM356 246h1v1h-1zM567 246h6v1h-6zM581 246h6v1h-6zM602 246h2v1h-2zM801 246h1v1h-1zM208 424h1v1h-1zM948 424h1v1h-1zM1652 424h1v1h-1zM303 297h1v1h-1zM834 297h1v1h-1zM302 298h1v1h-1zM835 298h1v1h-1zM640 217h1v1h-1zM779 217h1v1h-1zM639 218h1v1h-1zM780 218h1v1h-1zM239 388h1v1h-1zM909 388h1v1h-1zM234 395h1v1h-1zM916 395h1v1h-1zM278 334h1v1h-1zM856 334h1v1h-1zM282 327h1v1h-1zM852 327h1v1h-1zM109 485h3v1h-3zM318 278h1v1h-1zM823 278h1v1h-1zM314 283h1v1h-1zM826 283h1v1h-1zM650 206h1v1h-1zM768 206h1v1h-1zM291 314h1v1h-1zM844 314h1v1h-1zM222 410h1v1h-1zM932 410h1v1h-1zM339 258h2v1h-2zM810 258h1v1h-1zM266 350h1v1h-1zM869 350h1v1h-1zM21 489h8v1h-8zM99 489h2v1h-2zM259 360h1v1h-1zM877 360h1v1h-1zM233 396h1v1h-1zM917 396h1v1h-1zM309 289h1v1h-1zM829 289h1v1h-1zM272 343h1v1h-1zM863 343h1v1h-1zM257 363h1v1h-1zM880 363h1v1h-1zM347 252h2v1h-2zM805 252h1v1h-1zM320 275h1v1h-1zM821 275h1v1h-1zM661 195h1v1h-1zM752 195h2v1h-2zM382 235h2v1h-2zM483 235h4v1h-4zM619 235h1v1h-1zM793 235h1v1h-1zM277 335h1v1h-1zM857 335h1v1h-1zM276 336h1v1h-1zM858 336h1v1h-1zM297 305h1v1h-1zM839 305h1v1h-1zM337 260h1v1h-1zM811 260h1v1h-1zM220 412h1v1h-1zM935 412h1v1h-1zM245 379h1v1h-1zM898 379h1v1h-1zM256 365h1v1h-1zM882 365h1v1h-1zM319 277h1v1h-1zM822 277h1v1h-1zM114 483h2v1h-2zM258 361h1v1h-1zM878 361h1v1h-1zM335 262h1v1h-1zM813 262h1v1h-1zM224 408h1v1h-1zM930 408h1v1h-1zM258 362h1v1h-1zM879 362h1v1h-1zM223 409h1v1h-1zM931 409h1v1h-1zM244 381h1v1h-1zM901 381h1v1h-1zM274 339h1v1h-1zM860 339h1v1h-1zM253 368h1v1h-1zM885 368h1v1h-1zM636 221h1v1h-1zM782 221h1v1h-1zM218 414h1v1h-1zM937 414h1v1h-1zM286 322h1v1h-1zM848 322h1v1h-1zM654 201h1v1h-1zM762 201h1v1h-1zM249 374h1v1h-1zM891 374h2v1h-2zM221 411h1v1h-1zM933 411h2v1h-2zM641 216h1v1h-1zM778 216h1v1h-1zM331 265h1v1h-1zM815 265h1v1h-1zM653 203h1v1h-1zM764 203h1v1h-1zM328 268h1v1h-1zM817 268h1v1h-1zM300 301h1v1h-1zM836 301h1v1h-1zM295 308h1v1h-1zM840 308h1v1h-1zM296 306h1v1h-1zM839 306h1v1h-1zM292 313h1v1h-1zM843 313h1v1h-1zM307 292h1v1h-1zM831 292h1v1h-1zM217 415h1v1h-1zM938 415h1v1h-1zM1664 415h1v1h-1zM240 387h1v1h-1zM908 387h1v1h-1zM288 318h1v1h-1zM846 318h1v1h-1zM284 324h1v1h-1zM850 324h1v1h-1zM271 344h1v1h-1zM864 344h1v1h-1zM270 345h1v1h-1zM865 345h1v1h-1zM248 376h1v1h-1zM894 376h1v1h-1zM226 405h1v1h-1zM927 405h1v1h-1zM228 403h1v1h-1zM924 403h1v1h-1zM243 382h1v1h-1zM902 382h1v1h-1zM301 299h1v1h-1zM835 299h1v1h-1zM286 321h1v1h-1zM848 321h1v1h-1zM282 328h1v1h-1zM852 328h1v1h-1zM229 401h1v1h-1zM922 401h1v1h-1zM242 383h1v1h-1zM903 383h2v1h-2zM202 430h1v1h-1zM956 430h2v1h-2zM1638 430h2v1h-2zM312 285h1v1h-1zM827 285h1v1h-1zM349 251h1v1h-1zM805 251h1v1h-1zM662 194h1v1h-1zM750 194h2v1h-2zM213 419h1v1h-1zM943 419h1v1h-1zM1659 419h1v1h-1zM653 202h1v1h-1zM763 202h1v1h-1zM269 346h1v1h-1zM866 346h1v1h-1zM324 271h1v1h-1zM819 271h1v1h-1zM237 390h1v1h-1zM911 390h1v1h-1zM245 380h1v1h-1zM899 380h2v1h-2zM296 307h1v1h-1zM840 307h1v1h-1zM254 367h1v1h-1zM884 367h1v1h-1zM253 369h1v1h-1zM886 369h1v1h-1zM248 375h1v1h-1zM893 375h1v1h-1zM274 340h1v1h-1zM861 340h1v1h-1zM280 331h1v1h-1zM854 331h1v1h-1zM346 253h1v1h-1zM806 253h1v1h-1zM265 352h1v1h-1zM871 352h1v1h-1zM651 205h1v1h-1zM767 205h1v1h-1zM112 484h2v1h-2zM329 267h1v1h-1zM816 267h1v1h-1zM263 355h1v1h-1zM873 355h1v1h-1zM658 197h1v1h-1zM756 197h1v1h-1zM284 325h1v1h-1zM850 325h1v1h-1zM232 397h1v1h-1zM918 397h1v1h-1zM280 330h1v1h-1zM854 330h1v1h-1zM311 286h1v1h-1zM827 286h1v1h-1zM345 254h1v1h-1zM807 254h1v1h-1zM323 272h1v1h-1zM819 272h1v1h-1zM250 372h1v1h-1zM889 372h1v1h-1zM656 199h1v1h-1zM759 199h2v1h-2zM299 302h1v1h-1zM837 302h1v1h-1zM306 293h1v1h-1zM832 293h1v1h-1zM269 347h1v1h-1zM867 347h1v1h-1zM665 192h1v1h-1zM746 192h2v1h-2zM247 377h1v1h-1zM895 377h2v1h-2zM310 288h1v1h-1zM829 288h1v1h-1zM242 384h1v1h-1zM905 384h1v1h-1zM652 204h1v1h-1zM765 204h2v1h-2zM241 385h1v1h-1zM906 385h1v1h-1zM264 353h1v1h-1zM871 353h1v1h-1z"/>
<path fill="#ff00ff" d="M231 447h2v1h-2zM1211 447h2v1h-2zM1643 447h4v1h-4zM214 457h2v1h-2zM1235 457h4v1h-4zM1459 457h4v1h-4zM1525 457h16v1h-16zM238 443h2v1h-2zM1202 443h2v1h-2zM1656 443h3v1h-3zM564 267h2v1h-2zM874 267h2v1h-2zM597 250h2v1h-2zM846 250h2v1h-2zM210 459h2v1h-2zM1243 459h2v1h-2zM1437 459h16v1h-16zM508 295h2v1h-2zM947 295h2v1h-2zM588 255h2v1h-2zM855 255h2v1h-2zM596 251h1v1h-1zM848 251h2v1h-2zM296 412h2v1h-2zM1121 412h2v1h-2zM242 441h2v1h-2zM1197 441h3v1h-3zM1661 441h3v1h-3zM192 467h2v1h-2zM1271 467h6v1h-6zM1293 467h8v1h-8zM1309 467h16v1h-16zM1341 467h16v1h-16zM477 307h3v1h-3zM970 307h2v1h-2zM208 460h2v1h-2zM1245 460h3v1h-3zM1431 460h6v1h-6zM378 369h1v1h-1zM1063 369h2v1h-2zM504 297h2v1h-2zM952 297h2v1h-2zM472 309h3v1h-3zM974 309h2v1h-2zM677 216h46v1h-46zM194 466h2v1h-2zM1267 466h4v1h-4zM1301 466h8v1h-8zM1357 466h48v1h-48zM362 379h2v1h-2zM1075 379h2v1h-2zM344 388h2v1h-2zM1087 388h1v1h-1zM258 432h2v1h-2zM1171 432h4v1h-4zM69 490h8v1h-8zM173 473h6v1h-6zM260 431h2v1h-2zM1168 431h3v1h-3zM221 453h2v1h-2zM1224 453h3v1h-3zM1581 453h8v1h-8zM644 225h2v1h-2zM757 225h8v1h-8zM203 462h2v1h-2zM1251 462h2v1h-2zM1421 462h6v1h-6zM493 301h3v1h-3zM960 301h2v1h-2zM546 276h2v1h-2zM894 276h2v1h-2zM218 455h2v1h-2zM1229 455h3v1h-3zM1477 455h16v1h-16zM1549 455h8v1h-8zM167 474h6v1h-6zM462 313h2v1h-2zM981 313h2v1h-2zM334 393h2v1h-2zM1093 393h1v1h-1zM53 493h6v1h-6zM556 271h2v1h-2zM883 271h2v1h-2zM651 222h2v1h-2zM739 222h4v1h-4zM483 305h2v1h-2zM967 305h2v1h-2zM189 468h3v1h-3zM1277 468h16v1h-16zM1325 468h16v1h-16zM542 278h2v1h-2zM899 278h2v1h-2zM163 475h4v1h-4zM562 268h2v1h-2zM876 268h2v1h-2zM570 264h2v1h-2zM869 264h2v1h-2zM510 294h2v1h-2zM943 294h4v1h-4zM298 411h2v1h-2zM1119 411h2v1h-2zM640 227h2v1h-2zM773 227h8v1h-8zM77 489h8v1h-8zM638 228h2v1h-2zM781 228h6v1h-6zM382 366h1v1h-1zM1059 366h2v1h-2zM369 375h1v1h-1zM1071 375h1v1h-1zM445 323h2v1h-2zM999 323h2v1h-2zM402 352h1v1h-1zM1041 352h1v1h-1zM395 357h2v1h-2zM1047 357h2v1h-2zM216 456h2v1h-2zM1232 456h3v1h-3zM1463 456h14v1h-14zM1493 456h32v1h-32zM1541 456h8v1h-8zM634 230h2v1h-2zM791 230h6v1h-6zM580 259h2v1h-2zM861 259h2v1h-2zM256 433h2v1h-2zM1175 433h4v1h-4zM442 325h2v1h-2zM1002 325h2v1h-2zM236 444h2v1h-2zM1204 444h2v1h-2zM1653 444h3v1h-3zM223 452h2v1h-2zM1222 452h2v1h-2zM1589 452h8v1h-8zM93 487h8v1h-8zM599 249h2v1h-2zM844 249h2v1h-2zM233 446h1v1h-1zM1208 446h3v1h-3zM1647 446h4v1h-4zM648 223h3v1h-3zM743 223h6v1h-6zM228 449h1v1h-1zM1216 449h2v1h-2zM1607 449h14v1h-14zM284 418h2v1h-2zM1136 418h3v1h-3zM653 221h3v1h-3zM736 221h3v1h-3zM501 298h3v1h-3zM954 298h2v1h-2zM576 261h2v1h-2zM865 261h1v1h-1zM290 415h2v1h-2zM1128 415h3v1h-3zM271 425h2v1h-2zM1154 425h2v1h-2zM586 256h2v1h-2zM857 256h1v1h-1zM480 306h3v1h-3zM969 306h1v1h-1zM379 368h2v1h-2zM1062 368h1v1h-1zM426 335h2v1h-2zM1018 335h1v1h-1zM288 416h2v1h-2zM1131 416h2v1h-2zM304 408h2v1h-2zM1114 408h2v1h-2zM403 351h2v1h-2zM1040 351h1v1h-1zM584 257h2v1h-2zM858 257h2v1h-2zM534 282h2v1h-2zM909 282h3v1h-3zM229 448h2v1h-2zM1213 448h3v1h-3zM1621 448h22v1h-22zM375 371h2v1h-2zM1066 371h1v1h-1zM37 495h8v1h-8zM524 287h2v1h-2zM923 287h2v1h-2zM663 218h6v1h-6zM727 218h4v1h-4zM530 284h2v1h-2zM915 284h2v1h-2zM373 372h2v1h-2zM1067 372h1v1h-1zM522 288h2v1h-2zM925 288h3v1h-3zM29 496h8v1h-8zM496 300h3v1h-3zM958 300h2v1h-2zM200 463h3v1h-3zM1253 463h3v1h-3zM1415 463h6v1h-6zM286 417h2v1h-2zM1133 417h3v1h-3zM627 233h2v1h-2zM807 233h4v1h-4zM308 406h2v1h-2zM1111 406h2v1h-2zM266 428h2v1h-2zM1160 428h3v1h-3zM131 480h4v1h-4zM625 234h2v1h-2zM811 234h4v1h-4zM572 263h2v1h-2zM868 263h1v1h-1zM198 464h2v1h-2zM1256 464h5v1h-5zM1411 464h4v1h-4zM196 465h2v1h-2zM1261 465h6v1h-6zM1405 465h6v1h-6zM512 293h2v1h-2zM939 293h4v1h-4zM428 334h1v1h-1zM1017 334h1v1h-1zM328 396h2v1h-2zM1097 396h1v1h-1zM621 236h2v1h-2zM819 236h2v1h-2zM568 265h2v1h-2zM871 265h2v1h-2zM220 454h1v1h-1zM1227 454h2v1h-2zM1557 454h24v1h-24zM117 483h6v1h-6zM324 398h2v1h-2zM1099 398h2v1h-2zM240 442h2v1h-2zM1200 442h2v1h-2zM1659 442h2v1h-2zM318 401h2v1h-2zM1103 401h2v1h-2zM532 283h2v1h-2zM912 283h3v1h-3zM342 389h2v1h-2zM1088 389h1v1h-1zM642 226h2v1h-2zM765 226h8v1h-8zM550 274h2v1h-2zM890 274h2v1h-2zM365 377h2v1h-2zM1073 377h1v1h-1zM475 308h2v1h-2zM972 308h2v1h-2zM409 347h1v1h-1zM1035 347h1v1h-1zM386 363h2v1h-2zM1055 363h2v1h-2zM278 421h2v1h-2zM1144 421h3v1h-3zM558 270h2v1h-2zM880 270h3v1h-3zM506 296h2v1h-2zM949 296h3v1h-3zM604 246h2v1h-2zM839 246h2v1h-2zM292 414h2v1h-2zM1125 414h3v1h-3zM326 397h2v1h-2zM1098 397h1v1h-1zM300 410h2v1h-2zM1117 410h2v1h-2zM1 498h4v1h-4zM612 242h1v1h-1zM832 242h2v1h-2zM617 239h1v1h-1zM826 239h2v1h-2zM413 344h2v1h-2zM1031 344h2v1h-2zM316 402h2v1h-2zM1105 402h1v1h-1zM212 458h2v1h-2zM1239 458h4v1h-4zM1453 458h6v1h-6zM520 289h2v1h-2zM928 289h3v1h-3zM629 232h3v1h-3zM803 232h4v1h-4zM434 330h2v1h-2zM1010 330h2v1h-2zM157 476h6v1h-6zM636 229h2v1h-2zM787 229h4v1h-4zM538 280h2v1h-2zM904 280h3v1h-3zM354 383h2v1h-2zM1081 383h1v1h-1zM578 260h2v1h-2zM863 260h2v1h-2zM294 413h2v1h-2zM1123 413h2v1h-2zM350 385h2v1h-2zM1083 385h1v1h-1zM332 394h2v1h-2zM1094 394h1v1h-1zM306 407h2v1h-2zM1113 407h1v1h-1zM419 340h2v1h-2zM1025 340h1v1h-1zM63 491h6v1h-6zM314 403h2v1h-2zM1106 403h2v1h-2zM205 461h3v1h-3zM1248 461h3v1h-3zM1427 461h4v1h-4zM464 312h3v1h-3zM980 312h1v1h-1zM491 302h2v1h-2zM962 302h2v1h-2zM460 314h2v1h-2zM983 314h2v1h-2zM5 497h24v1h-24zM234 445h2v1h-2zM1206 445h2v1h-2zM1651 445h2v1h-2zM352 384h2v1h-2zM1082 384h1v1h-1zM594 252h2v1h-2zM850 252h2v1h-2zM358 381h2v1h-2zM1078 381h1v1h-1zM340 390h2v1h-2zM1089 390h1v1h-1zM225 451h1v1h-1zM1220 451h2v1h-2zM1597 451h6v1h-6zM338 391h2v1h-2zM1090 391h1v1h-1zM669 217h8v1h-8zM723 217h4v1h-4zM410 346h2v1h-2zM1034 346h1v1h-1zM273 424h1v1h-1zM1152 424h2v1h-2zM656 220h3v1h-3zM733 220h3v1h-3zM247 438h2v1h-2zM1189 438h3v1h-3zM45 494h8v1h-8zM453 318h2v1h-2zM990 318h2v1h-2zM606 245h2v1h-2zM837 245h2v1h-2zM346 387h2v1h-2zM1085 387h2v1h-2zM467 311h2v1h-2zM978 311h2v1h-2zM646 224h2v1h-2zM749 224h8v1h-8zM552 273h2v1h-2zM888 273h2v1h-2zM540 279h2v1h-2zM901 279h3v1h-3zM632 231h2v1h-2zM797 231h6v1h-6zM437 328h2v1h-2zM1007 328h2v1h-2zM590 254h2v1h-2zM853 254h2v1h-2zM336 392h2v1h-2zM1091 392h2v1h-2zM184 470h3v1h-3zM526 286h2v1h-2zM920 286h3v1h-3zM312 404h2v1h-2zM1108 404h1v1h-1zM385 364h1v1h-1zM1057 364h1v1h-1zM276 422h2v1h-2zM1147 422h2v1h-2zM244 440h1v1h-1zM1195 440h2v1h-2zM1664 440h1v1h-1zM613 241h2v1h-2zM830 241h2v1h-2zM262 430h2v1h-2zM1165 430h3v1h-3zM393 359h1v1h-1zM1050 359h1v1h-1zM431 332h2v1h-2zM1013 332h2v1h-2zM85 488h8v1h-8zM274 423h2v1h-2zM1149 423h3v1h-3zM601 248h1v1h-1zM842 248h2v1h-2zM226 450h2v1h-2zM1218 450h2v1h-2zM1603 450h4v1h-4zM615 240h2v1h-2zM828 240h2v1h-2zM560 269h2v1h-2zM878 269h2v1h-2zM322 399h2v1h-2zM1101 399h1v1h-1zM608 244h2v1h-2zM836 244h1v1h-1zM111 484h6v1h-6zM320 400h2v1h-2zM1102 400h1v1h-1zM620 237h1v1h-1zM821 237h3v1h-3zM107 485h4v1h-4zM536 281h2v1h-2zM907 281h2v1h-2zM514 292h2v1h-2zM936 292h3v1h-3zM302 409h2v1h-2zM1116 409h1v1h-1zM330 395h2v1h-2zM1095 395h2v1h-2zM450 320h2v1h-2zM994 320h2v1h-2zM141 478h8v1h-8zM528 285h2v1h-2zM917 285h3v1h-3zM179 472h2v1h-2zM421 339h1v1h-1zM1023 339h2v1h-2zM469 310h3v1h-3zM976 310h2v1h-2zM548 275h2v1h-2zM892 275h2v1h-2zM360 380h2v1h-2zM1077 380h1v1h-1zM452 319h1v1h-1zM992 319h2v1h-2zM245 439h2v1h-2zM1192 439h3v1h-3zM250 436h2v1h-2zM1184 436h3v1h-3zM264 429h2v1h-2zM1163 429h2v1h-2zM254 434h2v1h-2zM1179 434h2v1h-2zM436 329h1v1h-1zM1009 329h1v1h-1zM269 426h2v1h-2zM1156 426h2v1h-2zM659 219h4v1h-4zM731 219h2v1h-2zM516 291h2v1h-2zM933 291h3v1h-3zM602 247h2v1h-2zM841 247h1v1h-1zM370 374h2v1h-2zM1069 374h2v1h-2zM417 342h1v1h-1zM1028 342h1v1h-1zM394 358h1v1h-1zM1049 358h1v1h-1zM544 277h2v1h-2zM896 277h3v1h-3zM488 303h3v1h-3zM964 303h1v1h-1zM418 341h1v1h-1zM1026 341h2v1h-2zM252 435h2v1h-2zM1181 435h3v1h-3zM444 324h1v1h-1zM1001 324h1v1h-1zM127 481h4v1h-4zM249 437h1v1h-1zM1187 437h2v1h-2zM149 477h8v1h-8zM268 427h1v1h-1zM1158 427h2v1h-2zM399 354h2v1h-2zM1043 354h2v1h-2zM310 405h2v1h-2zM1109 405h2v1h-2zM377 370h1v1h-1zM1065 370h1v1h-1zM423 337h2v1h-2zM1021 337h1v1h-1zM389 361h2v1h-2zM1053 361h1v1h-1zM101 486h6v1h-6zM455 317h2v1h-2zM988 317h2v1h-2zM59 492h4v1h-4zM449 321h1v1h-1zM996 321h1v1h-1zM181 471h3v1h-3zM364 378h1v1h-1zM1074 378h1v1h-1zM499 299h2v1h-2zM956 299h2v1h-2zM518 290h2v1h-2zM931 290h2v1h-2zM433 331h1v1h-1zM1012 331h1v1h-1zM610 243h2v1h-2zM834 243h2v1h-2zM439 327h2v1h-2zM1005 327h2v1h-2zM367 376h2v1h-2zM1072 376h1v1h-1zM458 315h2v1h-2zM985 315h1v1h-1zM405 350h1v1h-1zM1039 350h1v1h-1zM425 336h1v1h-1zM1019 336h2v1h-2zM415 343h2v1h-2zM1029 343h2v1h-2zM135 479h6v1h-6zM457 316h1v1h-1zM986 316h2v1h-2zM280 420h2v1h-2zM1141 420h3v1h-3zM397 356h1v1h-1zM1046 356h1v1h-1zM429 333h2v1h-2zM1015 333h2v1h-2zM554 272h2v1h-2zM885 272h3v1h-3zM623 235h2v1h-2zM815 235h4v1h-4zM618 238h2v1h-2zM824 238h2v1h-2zM401 353h1v1h-1zM1042 353h1v1h-1zM441 326h1v1h-1zM1004 326h1v1h-1zM383 365h2v1h-2zM1058 365h1v1h-1zM406 349h1v1h-1zM1037 349h2v1h-2zM485 304h3v1h-3zM965 304h2v1h-2zM123 482h4v1h-4zM391 360h2v1h-2zM1051 360h2v1h-2zM282 419h2v1h-2zM1139 419h2v1h-2zM566 266h2v1h-2zM873 266h1v1h-1zM447 322h2v1h-2zM997 322h2v1h-2zM407 348h2v1h-2zM1036 348h1v1h-1zM592 253h2v1h-2zM852 253h1v1h-1zM187 469h2v1h-2zM348 386h2v1h-2zM1084 386h1v1h-1zM412 345h1v1h-1zM1033 345h1v1h-1zM398 355h1v1h-1zM1045 355h1v1h-1zM574 262h2v1h-2zM866 262h2v1h-2zM582 258h2v1h-2zM860 258h1v1h-1zM356 382h2v1h-2zM1079 382h2v1h-2zM422 338h1v1h-1zM1022 338h1v1h-1zM372 373h1v1h-1zM1068 373h1v1h-1zM381 367h1v1h-1zM1061 367h1v1h-1zM388 362h1v1h-1zM1054 362h1v1h-1z"/>
<rect x="1" y="187" width="1686" height="2" fill="#ff0000"/>
<rect x="1" y="270" width="1686" height="2" fill="#ff0000"/>
<rect x="1" y="334" width="1686" height="2" fill="#32cd32"/>
<rect x="1" y="435" width="1686" height="2" fill="#4169e1"/>
<rect x="1" y="536" width="1686" height="2" fill="#4169e1"/>
</g>
<g clip-path="url(#cd)" shape-rendering="crispEdges">
<path fill="#c0c0c0" d="M1 625h1v3h-1zM9 625h1v3h-1zM17 625h1v1h-1zM25 625h1v1h-1zM33 625h1v1h-1zM41 623h1v3h-1zM49 621h1v5h-1zM57 620h1v6h-1zM65 621h1v5h-1zM73 621h1v5h-1zM81 621h1v5h-1zM89 621h1v5h-1zM97 621h1v5h-1zM105 620h1v6h-1zM113 620h1v6h-1zM121 618h1v8h-1zM129 617h1v9h-1zM137 617h1v9h-1zM145 617h1v9h-1zM153 615h1v11h-1zM161 614h1v12h-1zM169 611h1v15h-1zM177 607h1v19h-1zM185 601h1v25h-1zM193 599h1v27h-1zM201 596h1v30h-1zM209 591h1v35h-1zM217 588h1v38h-1zM225 585h1v41h-1zM233 580h1v46h-1zM241 575h1v51h-1zM249 574h1v52h-1zM257 573h1v53h-1zM265 573h1v53h-1zM273 575h1v51h-1zM281 575h1v51h-1zM289 573h1v53h-1zM297 571h1v55h-1zM305 571h1v55h-1zM313 574h1v52h-1zM321 578h1v48h-1zM329 584h1v42h-1zM337 588h1v38h-1zM345 590h1v36h-1zM353 591h1v35h-1zM361 593h1v33h-1zM369 597h1v29h-1zM377 600h1v26h-1zM385 603h1v23h-1zM393 601h1v25h-1zM401 600h1v26h-1zM409 602h1v24h-1zM417 602h1v24h-1zM425 601h1v25h-1zM433 601h1v25h-1zM441 602h1v24h-1zM449 605h1v21h-1zM457 608h1v18h-1zM465 610h1v16h-1zM473 616h1v10h-1zM481 621h1v5h-1zM489 624h1v2h-1zM497 625h1v2h-1zM505 625h1v5h-1zM513 625h1v5h-1zM521 625h1v4h-1zM529 625h1v2h-1zM537 625h1v1h-1zM545 625h1v1h-1zM561 625h1v1h-1zM569 623h1v3h-1zM577 623h1v3h-1zM585 620h1v6h-1zM593 619h1v7h-1zM601 614h1v12h-1zM609 609h1v17h-1zM617 602h1v24h-1zM625 596h1v30h-1zM633 594h1v32h-1zM641 593h1v33h-1zM649 593h1v33h-1zM657 592h1v34h-1zM665 595h1v31h-1zM673 600h1v26h-1zM681 604h1v22h-1zM689 609h1v17h-1zM697 616h1v10h-1zM705 623h1v3h-1zM721 625h1v3h-1zM729 625h1v10h-1zM737 625h1v16h-1zM745 625h1v19h-1zM753 625h1v21h-1zM761 625h1v24h-1zM769 625h1v26h-1zM777 625h1v25h-1zM785 625h1v23h-1zM793 625h1v26h-1zM801 625h1v29h-1zM809 625h1v31h-1zM817 625h1v32h-1zM825 625h1v37h-1zM833 625h1v43h-1zM841 625h1v47h-1zM849 625h1v53h-1zM857 625h1v55h-1zM865 625h1v57h-1zM873 625h1v54h-1zM881 625h1v51h-1zM889 625h1v48h-1zM897 625h1v45h-1zM905 625h1v44h-1zM913 625h1v44h-1zM921 625h1v43h-1zM929 625h1v41h-1zM937 625h1v39h-1zM945 625h1v36h-1zM953 625h1v33h-1zM961 625h1v31h-1zM969 625h1v32h-1zM977 625h1v34h-1zM985 625h1v34h-1zM993 625h1v32h-1zM1001 625h1v33h-1zM1009 625h1v32h-1zM1017 625h1v33h-1zM1025 625h1v33h-1zM1033 625h1v33h-1zM1041 625h1v33h-1zM1049 625h1v29h-1zM1057 625h1v25h-1zM1065 625h1v21h-1zM1073 625h1v19h-1zM1081 625h1v15h-1zM1089 625h1v12h-1zM1097 625h1v12h-1zM1105 625h1v10h-1zM1113 625h1v8h-1zM1121 625h1v5h-1zM1129 625h1v1h-1zM1137 624h1v2h-1zM1145 623h1v3h-1zM1153 622h1v4h-1zM1161 623h1v3h-1zM1169 623h1v3h-1zM1177 622h1v4h-1zM1185 622h1v4h-1zM1193 624h1v2h-1zM1209 625h1v3h-1zM1217 625h1v6h-1zM1225 625h1v7h-1zM1233 625h1v9h-1zM1241 625h1v10h-1zM1249 625h1v11h-1zM1257 625h1v15h-1zM1265 625h1v16h-1zM1273 625h1v16h-1zM1281 625h1v16h-1zM1289 625h1v11h-1zM1297 625h1v7h-1zM1305 625h1v3h-1zM1313 625h1v1h-1zM1321 624h1v2h-1zM1329 623h1v3h-1zM1337 622h1v4h-1zM1345 622h1v4h-1zM1353 620h1v6h-1zM1361 618h1v8h-1zM1369 616h1v10h-1zM1377 617h1v9h-1zM1385 619h1v7h-1zM1393 619h1v7h-1zM1401 619h1v7h-1zM1409 619h1v7h-1zM1417 617h1v9h-1zM1425 615h1v11h-1zM1433 614h1v12h-1zM1441 615h1v11h-1zM1449 618h1v8h-1zM1457 620h1v6h-1zM1465 621h1v5h-1zM1473 625h1v1h-1zM1481 625h1v2h-1zM1489 625h1v4h-1zM1497 625h1v6h-1zM1505 625h1v6h-1zM1513 625h1v7h-1zM1521 625h1v6h-1zM1529 625h1v6h-1zM1537 625h1v5h-1zM1545 625h1v4h-1zM1553 625h1v1h-1zM1561 621h1v5h-1zM1569 617h1v9h-1zM1577 615h1v11h-1zM1585 612h1v14h-1zM1593 611h1v15h-1zM1601 611h1v15h-1zM1609 611h1v15h-1zM1617 611h1v15h-1zM1625 612h1v14h-1zM1633 615h1v11h-1zM1641 616h1v10h-1zM1649 617h1v9h-1zM1657 613h1v13h-1zM1665 608h1v18h-1z"/>
<path fill="#ff0000" d="M7 630h3v1h-3zM13 630h3v1h-3zM19 630h3v1h-3zM25 630h3v1h-3zM1149 630h1v1h-1zM1251 630h1v1h-1zM1335 630h1v1h-1zM1537 630h3v1h-3zM1543 630h3v1h-3zM1549 630h3v1h-3zM1555 630h2v1h-2zM253 585h1v1h-1zM373 585h1v1h-1zM49 626h3v1h-3zM541 626h3v1h-3zM547 626h2v1h-2zM559 626h3v1h-3zM565 626h3v1h-3zM571 626h3v1h-3zM577 626h2v1h-2zM746 626h2v1h-2zM1167 626h1v1h-1zM1171 626h2v1h-2zM1231 626h3v1h-3zM1351 626h1v1h-1zM1519 626h3v1h-3zM1573 626h2v1h-2zM151 617h3v1h-3zM157 617h3v1h-3zM163 617h2v1h-2zM511 617h1v1h-1zM615 617h1v1h-1zM733 617h1v1h-1zM1413 617h1v1h-1zM1417 617h3v1h-3zM1423 617h3v1h-3zM1429 617h3v1h-3zM1435 617h2v1h-2zM1447 617h3v1h-3zM1453 617h3v1h-3zM1459 617h3v1h-3zM1465 617h3v1h-3zM1471 617h3v1h-3zM1605 617h1v1h-1zM285 575h1v1h-1zM289 575h2v1h-2zM333 575h1v1h-1zM337 575h2v1h-2zM229 596h1v1h-1zM403 596h3v1h-3zM669 596h1v1h-1zM673 596h3v1h-3zM679 596h3v1h-3zM685 596h3v1h-3zM55 625h3v1h-3zM535 625h3v1h-3zM579 625h1v1h-1zM745 625h1v1h-1zM1173 625h1v1h-1zM1177 625h2v1h-2zM1221 625h1v1h-1zM1225 625h3v1h-3zM1352 625h2v1h-2zM1513 625h3v1h-3zM1575 625h1v1h-1zM93 621h1v1h-1zM97 621h3v1h-3zM597 621h1v1h-1zM601 621h2v1h-2zM739 621h1v1h-1zM1369 621h3v1h-3zM1495 621h3v1h-3zM1591 621h3v1h-3zM481 606h2v1h-2zM715 606h1v1h-1zM1141 633h2v1h-2zM1261 633h3v1h-3zM1323 633h1v1h-1zM183 612h1v1h-1zM627 612h1v1h-1zM1629 612h1v1h-1zM1633 612h3v1h-3zM1639 612h3v1h-3zM1645 612h3v1h-3zM1651 612h3v1h-3zM1657 612h3v1h-3zM1663 612h2v1h-2zM199 608h1v1h-1zM487 608h1v1h-1zM637 608h1v1h-1zM872 671h2v1h-2zM931 671h3v1h-3zM200 607h2v1h-2zM483 607h1v1h-1zM638 607h2v1h-2zM716 607h2v1h-2zM865 668h2v1h-2zM943 668h3v1h-3zM85 622h3v1h-3zM91 622h2v1h-2zM523 622h3v1h-3zM591 622h1v1h-1zM595 622h2v1h-2zM740 622h1v1h-1zM1189 622h3v1h-3zM1195 622h3v1h-3zM1201 622h3v1h-3zM1363 622h3v1h-3zM1501 622h2v1h-2zM1587 622h1v1h-1zM195 609h1v1h-1zM488 609h2v1h-2zM721 609h1v1h-1zM133 618h3v1h-3zM139 618h3v1h-3zM145 618h3v1h-3zM512 618h2v1h-2zM613 618h2v1h-2zM734 618h1v1h-1zM1389 618h1v1h-1zM1393 618h3v1h-3zM1399 618h3v1h-3zM1405 618h3v1h-3zM1411 618h2v1h-2zM1477 618h3v1h-3zM1483 618h2v1h-2zM1603 618h2v1h-2zM841 658h2v1h-2zM1005 658h1v1h-1zM1009 658h3v1h-3zM1015 658h3v1h-3zM1021 658h3v1h-3zM1027 658h3v1h-3zM1033 658h3v1h-3zM1039 658h3v1h-3zM775 640h1v1h-1zM1117 640h2v1h-2zM61 624h3v1h-3zM67 624h2v1h-2zM531 624h1v1h-1zM583 624h3v1h-3zM1179 624h1v1h-1zM1213 624h3v1h-3zM1219 624h2v1h-2zM1357 624h2v1h-2zM1507 624h3v1h-3zM1579 624h3v1h-3zM973 662h3v1h-3zM979 662h2v1h-2zM296 572h2v1h-2zM301 572h3v1h-3zM307 572h3v1h-3zM313 572h3v1h-3zM219 600h1v1h-1zM429 600h1v1h-1zM433 600h3v1h-3zM439 600h3v1h-3zM656 600h2v1h-2zM703 600h1v1h-1zM117 619h1v1h-1zM121 619h3v1h-3zM127 619h3v1h-3zM607 619h3v1h-3zM735 619h1v1h-1zM1381 619h3v1h-3zM1387 619h2v1h-2zM1485 619h1v1h-1zM1489 619h2v1h-2zM1599 619h1v1h-1zM823 653h3v1h-3zM1071 653h1v1h-1zM1075 653h2v1h-2zM805 649h3v1h-3zM1088 649h2v1h-2zM217 601h2v1h-2zM445 601h3v1h-3zM451 601h3v1h-3zM457 601h3v1h-3zM655 601h1v1h-1zM704 601h2v1h-2zM889 674h3v1h-3zM909 674h1v1h-1zM913 674h3v1h-3zM843 659h1v1h-1zM997 659h3v1h-3zM1003 659h2v1h-2zM265 581h2v1h-2zM361 581h2v1h-2zM1 629h3v1h-3zM31 629h3v1h-3zM752 629h2v1h-2zM1153 629h3v1h-3zM1249 629h2v1h-2zM1339 629h3v1h-3zM1531 629h3v1h-3zM1557 629h1v1h-1zM1561 629h2v1h-2zM769 637h1v1h-1zM1129 637h2v1h-2zM1279 637h3v1h-3zM1285 637h3v1h-3zM1291 637h3v1h-3zM1297 637h3v1h-3zM1303 637h3v1h-3zM224 598h2v1h-2zM415 598h3v1h-3zM661 598h3v1h-3zM697 598h2v1h-2zM259 582h3v1h-3zM363 582h1v1h-1zM213 602h1v1h-1zM463 602h3v1h-3zM651 602h1v1h-1zM831 655h1v1h-1zM1063 655h3v1h-3zM165 616h1v1h-1zM169 616h2v1h-2zM507 616h1v1h-1zM619 616h1v1h-1zM1437 616h1v1h-1zM1441 616h3v1h-3zM1609 616h2v1h-2zM895 675h3v1h-3zM901 675h3v1h-3zM907 675h2v1h-2zM69 623h1v1h-1zM73 623h3v1h-3zM79 623h3v1h-3zM529 623h2v1h-2zM589 623h2v1h-2zM741 623h1v1h-1zM1183 623h3v1h-3zM1207 623h3v1h-3zM1359 623h1v1h-1zM1503 623h1v1h-1zM1585 623h2v1h-2zM248 587h2v1h-2zM1105 644h2v1h-2zM817 651h2v1h-2zM1083 651h1v1h-1zM37 628h3v1h-3zM751 628h1v1h-1zM1159 628h3v1h-3zM1243 628h3v1h-3zM1345 628h2v1h-2zM1527 628h1v1h-1zM1563 628h1v1h-1zM277 577h2v1h-2zM343 577h3v1h-3zM279 576h1v1h-1zM283 576h2v1h-2zM339 576h1v1h-1zM193 610h2v1h-2zM632 610h2v1h-2zM722 610h2v1h-2zM763 634h1v1h-1zM1136 634h2v1h-2zM1267 634h3v1h-3zM1321 634h2v1h-2zM171 615h1v1h-1zM505 615h2v1h-2zM620 615h2v1h-2zM1611 615h1v1h-1zM243 589h1v1h-1zM381 589h1v1h-1zM187 611h3v1h-3zM493 611h3v1h-3zM631 611h1v1h-1zM1131 636h1v1h-1zM1275 636h1v1h-1zM1309 636h3v1h-3zM795 647h1v1h-1zM1093 647h3v1h-3zM374 586h2v1h-2zM811 650h3v1h-3zM1087 650h1v1h-1zM877 672h3v1h-3zM925 672h3v1h-3zM793 646h2v1h-2zM757 631h1v1h-1zM1147 631h2v1h-2zM1255 631h1v1h-1zM1333 631h2v1h-2zM271 579h1v1h-1zM351 579h1v1h-1zM471 604h1v1h-1zM645 604h1v1h-1zM710 604h2v1h-2zM181 613h2v1h-2zM499 613h2v1h-2zM625 613h2v1h-2zM727 613h2v1h-2zM1621 613h3v1h-3zM1627 613h2v1h-2zM367 583h3v1h-3zM770 638h2v1h-2zM1123 638h3v1h-3zM787 645h3v1h-3zM1099 645h3v1h-3zM291 574h1v1h-1zM325 574h3v1h-3zM331 574h2v1h-2zM103 620h3v1h-3zM109 620h3v1h-3zM115 620h2v1h-2zM517 620h3v1h-3zM603 620h1v1h-1zM1375 620h3v1h-3zM1491 620h1v1h-1zM1597 620h2v1h-2zM758 632h2v1h-2zM1143 632h1v1h-1zM1256 632h2v1h-2zM1327 632h3v1h-3zM254 584h2v1h-2zM205 605h3v1h-3zM475 605h3v1h-3zM643 605h2v1h-2zM883 673h3v1h-3zM919 673h3v1h-3zM223 599h1v1h-1zM421 599h3v1h-3zM427 599h2v1h-2zM699 599h1v1h-1zM175 614h3v1h-3zM501 614h1v1h-1zM729 614h1v1h-1zM1615 614h3v1h-3zM43 627h3v1h-3zM549 627h1v1h-1zM553 627h3v1h-3zM1165 627h2v1h-2zM1237 627h3v1h-3zM1347 627h1v1h-1zM1525 627h2v1h-2zM1567 627h3v1h-3zM799 648h3v1h-3zM837 657h1v1h-1zM1045 657h3v1h-3zM1051 657h3v1h-3zM1057 657h2v1h-2zM853 663h3v1h-3zM967 663h3v1h-3zM409 597h3v1h-3zM667 597h2v1h-2zM691 597h3v1h-3zM764 635h2v1h-2zM1135 635h1v1h-1zM1273 635h2v1h-2zM1315 635h3v1h-3zM835 656h2v1h-2zM1059 656h1v1h-1zM272 578h2v1h-2zM349 578h2v1h-2zM247 588h1v1h-1zM379 588h2v1h-2zM267 580h1v1h-1zM355 580h3v1h-3zM236 592h2v1h-2zM391 592h1v1h-1zM295 573h1v1h-1zM319 573h3v1h-3zM860 666h2v1h-2zM951 666h1v1h-1zM955 666h2v1h-2zM819 652h1v1h-1zM1077 652h1v1h-1zM1081 652h2v1h-2zM235 593h1v1h-1zM392 593h2v1h-2zM781 643h3v1h-3zM1107 643h1v1h-1zM848 661h2v1h-2zM981 661h1v1h-1zM985 661h3v1h-3zM867 669h1v1h-1zM939 669h1v1h-1zM963 664h1v1h-1zM776 641h2v1h-2zM1112 641h2v1h-2zM211 603h2v1h-2zM469 603h2v1h-2zM649 603h2v1h-2zM709 603h1v1h-1zM397 594h2v1h-2zM847 660h1v1h-1zM991 660h3v1h-3zM230 595h2v1h-2zM399 595h1v1h-1zM871 670h1v1h-1zM937 670h2v1h-2zM1111 642h1v1h-1zM829 654h2v1h-2zM1069 654h2v1h-2zM241 590h2v1h-2zM385 590h2v1h-2zM859 665h1v1h-1zM957 665h1v1h-1zM961 665h2v1h-2zM949 667h2v1h-2zM387 591h1v1h-1zM1119 639h1v1h-1z"/>
</g>
<g clip-path="url(#cr)" shape-rendering="crispEdges">
<path stroke="#c0c0c0" stroke-width="1" stroke-dasharray="3 3" fill="none" d="M2 728.5H1686M2 778.5H1686"/>
<path fill="#1e90ff" d="M157 734h5v1h-5zM312 734h1v1h-1zM605 734h3v1h-3zM632 734h1v1h-1zM637 734h5v1h-5zM1656 734h1v1h-1zM10 745h2v1h-2zM26 745h2v1h-2zM37 745h2v1h-2zM60 745h1v1h-1zM105 745h2v1h-2zM327 745h1v1h-1zM332 745h2v1h-2zM365 745h1v1h-1zM386 745h1v1h-1zM439 745h1v1h-1zM569 745h1v1h-1zM582 745h1v1h-1zM592 745h2v1h-2zM666 745h1v1h-1zM1124 745h2v1h-2zM1141 745h2v1h-2zM1291 745h4v1h-4zM1309 745h3v1h-3zM1315 745h4v1h-4zM1323 745h4v1h-4zM1348 745h1v1h-1zM1373 745h1v1h-1zM1407 745h2v1h-2zM1439 745h1v1h-1zM1545 745h2v1h-2zM1621 745h1v1h-1zM1651 745h1v1h-1zM497 767h1v1h-1zM704 767h2v1h-2zM726 767h1v1h-1zM745 767h2v1h-2zM758 767h2v1h-2zM771 767h1v1h-1zM792 767h1v1h-1zM872 767h1v1h-1zM901 767h2v1h-2zM925 767h8v1h-8zM964 767h1v1h-1zM989 767h5v1h-5zM1008 767h1v1h-1zM1010 767h2v1h-2zM1043 767h1v1h-1zM1213 767h5v1h-5zM1253 767h1v1h-1zM1263 767h1v1h-1zM4 752h1v1h-1zM63 752h1v1h-1zM69 752h1v1h-1zM466 752h1v1h-1zM520 752h1v1h-1zM547 752h2v1h-2zM558 752h1v1h-1zM671 752h1v1h-1zM1079 752h1v1h-1zM1090 752h1v1h-1zM1112 752h2v1h-2zM1159 752h1v1h-1zM1167 752h4v1h-4zM1188 752h1v1h-1zM1286 752h1v1h-1zM1376 752h1v1h-1zM1389 752h3v1h-3zM1445 752h1v1h-1zM1521 752h1v1h-1zM1541 752h1v1h-1zM1627 752h4v1h-4zM1635 752h4v1h-4zM17 741h2v1h-2zM43 741h4v1h-4zM58 741h1v1h-1zM116 741h1v1h-1zM128 741h3v1h-3zM148 741h1v1h-1zM322 741h1v1h-1zM341 741h3v1h-3zM359 741h3v1h-3zM389 741h1v1h-1zM404 741h2v1h-2zM415 741h3v1h-3zM436 741h1v1h-1zM597 741h1v1h-1zM662 741h1v1h-1zM1135 741h3v1h-3zM1353 741h2v1h-2zM1371 741h1v1h-1zM1418 741h2v1h-2zM1434 741h1v1h-1zM1554 741h1v1h-1zM1604 741h2v1h-2zM1613 741h3v1h-3zM1618 741h1v1h-1zM1653 741h1v1h-1zM5 751h1v1h-1zM63 751h1v1h-1zM70 751h1v1h-1zM466 751h1v1h-1zM521 751h4v1h-4zM546 751h1v1h-1zM559 751h2v1h-2zM577 751h1v1h-1zM671 751h1v1h-1zM1080 751h1v1h-1zM1085 751h5v1h-5zM1114 751h2v1h-2zM1157 751h2v1h-2zM1171 751h2v1h-2zM1187 751h1v1h-1zM1286 751h1v1h-1zM1376 751h1v1h-1zM1392 751h3v1h-3zM1444 751h1v1h-1zM1542 751h1v1h-1zM1625 751h2v1h-2zM1639 751h4v1h-4zM153 735h4v1h-4zM313 735h1v1h-1zM393 735h1v1h-1zM603 735h2v1h-2zM633 735h4v1h-4zM642 735h2v1h-2zM656 735h2v1h-2zM1561 735h2v1h-2zM1656 735h1v1h-1zM3 753h1v1h-1zM64 753h1v1h-1zM68 753h1v1h-1zM467 753h1v1h-1zM519 753h1v1h-1zM549 753h1v1h-1zM557 753h1v1h-1zM672 753h1v1h-1zM677 753h6v1h-6zM1064 753h2v1h-2zM1077 753h2v1h-2zM1091 753h1v1h-1zM1110 753h2v1h-2zM1160 753h1v1h-1zM1163 753h4v1h-4zM1189 753h1v1h-1zM1285 753h1v1h-1zM1377 753h4v1h-4zM1387 753h2v1h-2zM1445 753h1v1h-1zM1520 753h1v1h-1zM1522 753h1v1h-1zM1541 753h1v1h-1zM1631 753h4v1h-4zM7 749h1v1h-1zM33 749h1v1h-1zM62 749h1v1h-1zM72 749h1v1h-1zM75 749h4v1h-4zM98 749h2v1h-2zM369 749h4v1h-4zM445 749h3v1h-3zM530 749h2v1h-2zM542 749h2v1h-2zM562 749h2v1h-2zM574 749h1v1h-1zM579 749h1v1h-1zM669 749h1v1h-1zM1117 749h2v1h-2zM1155 749h1v1h-1zM1176 749h10v1h-10zM1287 749h1v1h-1zM1375 749h1v1h-1zM1399 749h3v1h-3zM1442 749h1v1h-1zM1543 749h1v1h-1zM1624 749h1v1h-1zM1645 749h3v1h-3zM494 765h1v1h-1zM500 765h1v1h-1zM699 765h2v1h-2zM707 765h1v1h-1zM724 765h1v1h-1zM749 765h3v1h-3zM754 765h2v1h-2zM773 765h1v1h-1zM791 765h1v1h-1zM873 765h4v1h-4zM885 765h8v1h-8zM898 765h2v1h-2zM939 765h4v1h-4zM963 765h1v1h-1zM1044 765h1v1h-1zM1208 765h1v1h-1zM1220 765h2v1h-2zM1229 765h3v1h-3zM1237 765h5v1h-5zM1251 765h1v1h-1zM1265 765h4v1h-4zM1473 765h12v1h-12zM1491 765h4v1h-4zM1498 765h1v1h-1zM7 748h1v1h-1zM31 748h2v1h-2zM34 748h1v1h-1zM61 748h1v1h-1zM73 748h2v1h-2zM100 748h1v1h-1zM368 748h1v1h-1zM373 748h6v1h-6zM443 748h2v1h-2zM532 748h2v1h-2zM540 748h2v1h-2zM564 748h1v1h-1zM573 748h1v1h-1zM580 748h1v1h-1zM668 748h1v1h-1zM1119 748h2v1h-2zM1145 748h4v1h-4zM1154 748h1v1h-1zM1288 748h1v1h-1zM1335 748h11v1h-11zM1374 748h1v1h-1zM1402 748h2v1h-2zM1442 748h1v1h-1zM1543 748h1v1h-1zM1623 748h1v1h-1zM1648 748h2v1h-2zM15 742h2v1h-2zM19 742h2v1h-2zM41 742h2v1h-2zM58 742h1v1h-1zM114 742h2v1h-2zM131 742h4v1h-4zM147 742h1v1h-1zM323 742h1v1h-1zM339 742h2v1h-2zM362 742h1v1h-1zM388 742h1v1h-1zM406 742h2v1h-2zM411 742h4v1h-4zM437 742h1v1h-1zM585 742h2v1h-2zM596 742h1v1h-1zM663 742h1v1h-1zM1131 742h4v1h-4zM1138 742h1v1h-1zM1352 742h1v1h-1zM1371 742h1v1h-1zM1415 742h3v1h-3zM1435 742h1v1h-1zM1552 742h2v1h-2zM1606 742h2v1h-2zM1611 742h2v1h-2zM1618 742h1v1h-1zM1652 742h1v1h-1zM9 746h1v1h-1zM28 746h1v1h-1zM36 746h1v1h-1zM60 746h1v1h-1zM103 746h2v1h-2zM328 746h1v1h-1zM330 746h2v1h-2zM366 746h1v1h-1zM383 746h3v1h-3zM440 746h1v1h-1zM536 746h2v1h-2zM567 746h2v1h-2zM570 746h1v1h-1zM581 746h1v1h-1zM667 746h1v1h-1zM1122 746h2v1h-2zM1143 746h1v1h-1zM1289 746h2v1h-2zM1312 746h3v1h-3zM1327 746h4v1h-4zM1347 746h1v1h-1zM1373 746h1v1h-1zM1405 746h2v1h-2zM1440 746h1v1h-1zM1544 746h1v1h-1zM1621 746h1v1h-1zM1650 746h1v1h-1zM8 747h1v1h-1zM29 747h2v1h-2zM35 747h1v1h-1zM61 747h1v1h-1zM101 747h2v1h-2zM329 747h1v1h-1zM367 747h1v1h-1zM379 747h4v1h-4zM441 747h2v1h-2zM534 747h2v1h-2zM538 747h2v1h-2zM565 747h2v1h-2zM571 747h2v1h-2zM581 747h1v1h-1zM667 747h1v1h-1zM1121 747h1v1h-1zM1144 747h1v1h-1zM1149 747h5v1h-5zM1288 747h1v1h-1zM1331 747h4v1h-4zM1346 747h1v1h-1zM1374 747h1v1h-1zM1404 747h1v1h-1zM1441 747h1v1h-1zM1544 747h1v1h-1zM1622 747h1v1h-1zM1650 747h1v1h-1zM847 781h2v1h-2zM850 781h1v1h-1zM473 764h10v1h-10zM493 764h1v1h-1zM501 764h2v1h-2zM697 764h2v1h-2zM708 764h1v1h-1zM723 764h1v1h-1zM752 764h2v1h-2zM773 764h1v1h-1zM790 764h1v1h-1zM877 764h8v1h-8zM893 764h5v1h-5zM943 764h6v1h-6zM962 764h1v1h-1zM1044 764h1v1h-1zM1207 764h1v1h-1zM1222 764h2v1h-2zM1227 764h2v1h-2zM1242 764h2v1h-2zM1251 764h1v1h-1zM1269 764h6v1h-6zM1472 764h1v1h-1zM1485 764h6v1h-6zM1499 764h1v1h-1zM175 722h2v1h-2zM191 722h2v1h-2zM195 722h4v1h-4zM248 722h1v1h-1zM251 722h2v1h-2zM261 722h3v1h-3zM289 722h12v1h-12zM209 716h10v1h-10zM245 716h1v1h-1zM13 743h2v1h-2zM21 743h3v1h-3zM40 743h1v1h-1zM59 743h1v1h-1zM111 743h3v1h-3zM135 743h6v1h-6zM146 743h1v1h-1zM324 743h1v1h-1zM336 743h3v1h-3zM363 743h1v1h-1zM387 743h1v1h-1zM408 743h3v1h-3zM438 743h1v1h-1zM584 743h1v1h-1zM587 743h2v1h-2zM595 743h1v1h-1zM664 743h1v1h-1zM1128 743h3v1h-3zM1139 743h1v1h-1zM1301 743h6v1h-6zM1351 743h1v1h-1zM1372 743h1v1h-1zM1411 743h4v1h-4zM1436 743h1v1h-1zM1549 743h3v1h-3zM1608 743h3v1h-3zM1619 743h1v1h-1zM1652 743h1v1h-1zM12 744h1v1h-1zM24 744h2v1h-2zM39 744h1v1h-1zM59 744h1v1h-1zM107 744h4v1h-4zM141 744h5v1h-5zM325 744h2v1h-2zM334 744h2v1h-2zM364 744h1v1h-1zM386 744h1v1h-1zM439 744h1v1h-1zM583 744h1v1h-1zM589 744h3v1h-3zM594 744h1v1h-1zM665 744h1v1h-1zM1126 744h2v1h-2zM1140 744h1v1h-1zM1295 744h6v1h-6zM1307 744h2v1h-2zM1319 744h4v1h-4zM1349 744h2v1h-2zM1372 744h1v1h-1zM1409 744h2v1h-2zM1437 744h2v1h-2zM1547 744h2v1h-2zM1620 744h1v1h-1zM1651 744h1v1h-1zM177 721h1v1h-1zM190 721h1v1h-1zM199 721h3v1h-3zM248 721h1v1h-1zM253 721h3v1h-3zM259 721h2v1h-2zM152 736h1v1h-1zM314 736h2v1h-2zM392 736h1v1h-1zM394 736h2v1h-2zM425 736h4v1h-4zM601 736h2v1h-2zM644 736h2v1h-2zM653 736h3v1h-3zM658 736h1v1h-1zM1560 736h1v1h-1zM1563 736h4v1h-4zM1581 736h6v1h-6zM1655 736h1v1h-1zM469 757h1v1h-1zM514 757h1v1h-1zM690 757h1v1h-1zM1048 757h1v1h-1zM1072 757h2v1h-2zM1095 757h1v1h-1zM1101 757h3v1h-3zM1192 757h1v1h-1zM1283 757h1v1h-1zM1448 757h1v1h-1zM1453 757h6v1h-6zM1467 757h1v1h-1zM1505 757h2v1h-2zM1516 757h1v1h-1zM1526 757h1v1h-1zM1539 757h1v1h-1zM728 769h1v1h-1zM741 769h2v1h-2zM765 769h5v1h-5zM797 769h6v1h-6zM813 769h3v1h-3zM818 769h1v1h-1zM870 769h1v1h-1zM905 769h4v1h-4zM915 769h4v1h-4zM966 769h1v1h-1zM984 769h1v1h-1zM995 769h2v1h-2zM1005 769h2v1h-2zM1014 769h2v1h-2zM1042 769h1v1h-1zM1254 769h1v1h-1zM1261 769h1v1h-1zM6 750h1v1h-1zM62 750h1v1h-1zM71 750h1v1h-1zM79 750h19v1h-19zM448 750h18v1h-18zM525 750h5v1h-5zM544 750h2v1h-2zM561 750h1v1h-1zM575 750h2v1h-2zM578 750h1v1h-1zM670 750h1v1h-1zM1081 750h4v1h-4zM1116 750h1v1h-1zM1156 750h1v1h-1zM1173 750h3v1h-3zM1186 750h1v1h-1zM1287 750h1v1h-1zM1375 750h1v1h-1zM1395 750h4v1h-4zM1443 750h1v1h-1zM1542 750h1v1h-1zM1624 750h1v1h-1zM1643 750h2v1h-2zM471 761h1v1h-1zM488 761h2v1h-2zM506 761h2v1h-2zM694 761h1v1h-1zM711 761h1v1h-1zM717 761h3v1h-3zM776 761h1v1h-1zM787 761h1v1h-1zM1046 761h1v1h-1zM1203 761h1v1h-1zM1248 761h2v1h-2zM1280 761h2v1h-2zM1470 761h1v1h-1zM1501 761h1v1h-1zM171 725h2v1h-2zM267 725h1v1h-1zM285 725h1v1h-1zM306 725h1v1h-1zM621 725h5v1h-5zM178 720h2v1h-2zM189 720h1v1h-1zM202 720h2v1h-2zM247 720h1v1h-1zM256 720h3v1h-3zM470 758h1v1h-1zM512 758h2v1h-2zM691 758h1v1h-1zM783 758h3v1h-3zM1048 758h1v1h-1zM1096 758h1v1h-1zM1099 758h2v1h-2zM1193 758h4v1h-4zM1283 758h1v1h-1zM1449 758h4v1h-4zM1468 758h1v1h-1zM1504 758h1v1h-1zM1507 758h2v1h-2zM1515 758h1v1h-1zM1527 758h1v1h-1zM1538 758h1v1h-1zM47 740h11v1h-11zM117 740h2v1h-2zM125 740h3v1h-3zM149 740h1v1h-1zM321 740h1v1h-1zM344 740h5v1h-5zM355 740h4v1h-4zM389 740h1v1h-1zM402 740h2v1h-2zM418 740h2v1h-2zM435 740h1v1h-1zM597 740h1v1h-1zM661 740h1v1h-1zM1355 740h4v1h-4zM1370 740h1v1h-1zM1420 740h1v1h-1zM1432 740h2v1h-2zM1555 740h1v1h-1zM1602 740h2v1h-2zM1616 740h2v1h-2zM1653 740h1v1h-1zM731 771h4v1h-4zM738 771h2v1h-2zM807 771h4v1h-4zM820 771h1v1h-1zM869 771h1v1h-1zM967 771h1v1h-1zM981 771h2v1h-2zM998 771h1v1h-1zM1003 771h1v1h-1zM1021 771h8v1h-8zM1035 771h4v1h-4zM1255 771h1v1h-1zM1260 771h1v1h-1zM470 759h1v1h-1zM510 759h2v1h-2zM692 759h1v1h-1zM713 759h2v1h-2zM779 759h4v1h-4zM786 759h1v1h-1zM1047 759h1v1h-1zM1097 759h2v1h-2zM1197 759h5v1h-5zM1282 759h1v1h-1zM1469 759h1v1h-1zM1503 759h1v1h-1zM1509 759h3v1h-3zM1514 759h1v1h-1zM1528 759h1v1h-1zM1538 759h1v1h-1zM824 775h1v1h-1zM857 775h2v1h-2zM866 775h1v1h-1zM975 775h3v1h-3zM2 755h1v1h-1zM65 755h2v1h-2zM468 755h1v1h-1zM516 755h1v1h-1zM551 755h2v1h-2zM554 755h1v1h-1zM685 755h3v1h-3zM1059 755h2v1h-2zM1068 755h2v1h-2zM1075 755h1v1h-1zM1093 755h1v1h-1zM1106 755h2v1h-2zM1190 755h1v1h-1zM1284 755h1v1h-1zM1447 755h1v1h-1zM1461 755h3v1h-3zM1466 755h1v1h-1zM1518 755h1v1h-1zM1524 755h1v1h-1zM1540 755h1v1h-1zM735 772h3v1h-3zM821 772h1v1h-1zM868 772h1v1h-1zM968 772h1v1h-1zM980 772h1v1h-1zM999 772h2v1h-2zM1002 772h1v1h-1zM1029 772h6v1h-6zM1256 772h1v1h-1zM1259 772h1v1h-1zM471 760h1v1h-1zM508 760h2v1h-2zM693 760h1v1h-1zM712 760h1v1h-1zM715 760h2v1h-2zM777 760h2v1h-2zM787 760h1v1h-1zM1047 760h1v1h-1zM1202 760h1v1h-1zM1282 760h1v1h-1zM1469 760h1v1h-1zM1502 760h1v1h-1zM1512 760h2v1h-2zM1529 760h9v1h-9zM174 723h1v1h-1zM193 723h2v1h-2zM249 723h2v1h-2zM264 723h2v1h-2zM287 723h2v1h-2zM301 723h5v1h-5zM472 762h1v1h-1zM485 762h3v1h-3zM490 762h1v1h-1zM505 762h1v1h-1zM695 762h1v1h-1zM710 762h1v1h-1zM720 762h2v1h-2zM775 762h1v1h-1zM788 762h1v1h-1zM1046 762h1v1h-1zM1204 762h1v1h-1zM1246 762h2v1h-2zM1250 762h1v1h-1zM1277 762h3v1h-3zM1471 762h1v1h-1zM1501 762h1v1h-1zM822 773h1v1h-1zM868 773h1v1h-1zM969 773h2v1h-2zM979 773h1v1h-1zM1001 773h1v1h-1zM1256 773h1v1h-1zM1258 773h1v1h-1zM151 737h1v1h-1zM316 737h1v1h-1zM392 737h1v1h-1zM396 737h2v1h-2zM423 737h2v1h-2zM429 737h5v1h-5zM600 737h1v1h-1zM646 737h2v1h-2zM651 737h2v1h-2zM659 737h1v1h-1zM1425 737h2v1h-2zM1559 737h1v1h-1zM1567 737h14v1h-14zM1587 737h4v1h-4zM1655 737h1v1h-1zM237 708h5v1h-5zM119 739h2v1h-2zM123 739h2v1h-2zM149 739h1v1h-1zM319 739h2v1h-2zM349 739h6v1h-6zM390 739h1v1h-1zM400 739h2v1h-2zM420 739h1v1h-1zM435 739h1v1h-1zM598 739h1v1h-1zM661 739h1v1h-1zM1359 739h6v1h-6zM1370 739h1v1h-1zM1421 739h2v1h-2zM1429 739h3v1h-3zM1556 739h1v1h-1zM1597 739h5v1h-5zM1654 739h1v1h-1zM472 763h1v1h-1zM483 763h2v1h-2zM491 763h2v1h-2zM503 763h2v1h-2zM696 763h1v1h-1zM709 763h1v1h-1zM722 763h1v1h-1zM774 763h1v1h-1zM789 763h1v1h-1zM949 763h13v1h-13zM1045 763h1v1h-1zM1205 763h2v1h-2zM1224 763h3v1h-3zM1244 763h2v1h-2zM1250 763h1v1h-1zM1275 763h2v1h-2zM1472 763h1v1h-1zM1500 763h1v1h-1zM232 709h5v1h-5zM242 709h1v1h-1zM727 768h1v1h-1zM743 768h2v1h-2zM760 768h5v1h-5zM770 768h1v1h-1zM793 768h4v1h-4zM816 768h2v1h-2zM871 768h1v1h-1zM903 768h2v1h-2zM919 768h6v1h-6zM965 768h1v1h-1zM985 768h4v1h-4zM994 768h1v1h-1zM1007 768h1v1h-1zM1012 768h2v1h-2zM1042 768h1v1h-1zM1253 768h1v1h-1zM1262 768h1v1h-1zM228 711h2v1h-2zM243 711h1v1h-1zM163 732h1v1h-1zM273 732h1v1h-1zM311 732h1v1h-1zM610 732h1v1h-1zM631 732h1v1h-1zM1657 732h1v1h-1zM121 738h2v1h-2zM150 738h1v1h-1zM317 738h2v1h-2zM391 738h1v1h-1zM398 738h2v1h-2zM421 738h2v1h-2zM434 738h1v1h-1zM599 738h1v1h-1zM648 738h3v1h-3zM660 738h1v1h-1zM1365 738h5v1h-5zM1423 738h2v1h-2zM1427 738h2v1h-2zM1557 738h2v1h-2zM1591 738h6v1h-6zM1654 738h1v1h-1zM3 754h1v1h-1zM64 754h1v1h-1zM67 754h1v1h-1zM467 754h1v1h-1zM517 754h2v1h-2zM550 754h1v1h-1zM555 754h2v1h-2zM673 754h4v1h-4zM683 754h2v1h-2zM1061 754h3v1h-3zM1066 754h2v1h-2zM1076 754h1v1h-1zM1092 754h1v1h-1zM1108 754h2v1h-2zM1161 754h2v1h-2zM1189 754h1v1h-1zM1285 754h1v1h-1zM1381 754h6v1h-6zM1446 754h1v1h-1zM1464 754h2v1h-2zM1519 754h1v1h-1zM1523 754h1v1h-1zM1540 754h1v1h-1zM167 729h1v1h-1zM270 729h1v1h-1zM278 729h2v1h-2zM309 729h1v1h-1zM613 729h2v1h-2zM628 729h1v1h-1zM1662 729h2v1h-2zM180 719h2v1h-2zM187 719h2v1h-2zM204 719h1v1h-1zM247 719h1v1h-1zM495 766h2v1h-2zM498 766h2v1h-2zM701 766h3v1h-3zM706 766h1v1h-1zM725 766h1v1h-1zM747 766h2v1h-2zM756 766h2v1h-2zM772 766h1v1h-1zM791 766h1v1h-1zM872 766h1v1h-1zM900 766h1v1h-1zM933 766h6v1h-6zM963 766h1v1h-1zM1009 766h1v1h-1zM1043 766h1v1h-1zM1209 766h4v1h-4zM1218 766h2v1h-2zM1232 766h5v1h-5zM1252 766h1v1h-1zM1264 766h1v1h-1zM1495 766h3v1h-3zM826 777h2v1h-2zM838 777h2v1h-2zM842 777h1v1h-1zM855 777h1v1h-1zM863 777h3v1h-3zM729 770h2v1h-2zM740 770h1v1h-1zM803 770h4v1h-4zM811 770h2v1h-2zM819 770h1v1h-1zM870 770h1v1h-1zM909 770h6v1h-6zM967 770h1v1h-1zM983 770h1v1h-1zM997 770h1v1h-1zM1004 770h1v1h-1zM1016 770h5v1h-5zM1039 770h3v1h-3zM1255 770h1v1h-1zM1261 770h1v1h-1zM169 727h1v1h-1zM269 727h1v1h-1zM282 727h1v1h-1zM308 727h1v1h-1zM616 727h1v1h-1zM627 727h1v1h-1zM184 717h2v1h-2zM207 717h2v1h-2zM246 717h1v1h-1zM830 779h2v1h-2zM834 779h2v1h-2zM845 779h1v1h-1zM852 779h1v1h-1zM170 726h1v1h-1zM268 726h1v1h-1zM283 726h2v1h-2zM307 726h1v1h-1zM617 726h4v1h-4zM626 726h1v1h-1zM1 756h1v1h-1zM65 756h1v1h-1zM468 756h1v1h-1zM515 756h1v1h-1zM553 756h1v1h-1zM688 756h2v1h-2zM1049 756h10v1h-10zM1070 756h2v1h-2zM1074 756h1v1h-1zM1094 756h1v1h-1zM1104 756h2v1h-2zM1191 756h1v1h-1zM1284 756h1v1h-1zM1448 756h1v1h-1zM1459 756h2v1h-2zM1466 756h1v1h-1zM1517 756h1v1h-1zM1525 756h1v1h-1zM1539 756h1v1h-1zM823 774h1v1h-1zM867 774h1v1h-1zM971 774h4v1h-4zM978 774h1v1h-1zM1257 774h1v1h-1zM825 776h1v1h-1zM840 776h2v1h-2zM856 776h1v1h-1zM859 776h4v1h-4zM866 776h1v1h-1zM221 714h3v1h-3zM244 714h1v1h-1zM164 731h1v1h-1zM272 731h1v1h-1zM274 731h2v1h-2zM310 731h1v1h-1zM611 731h1v1h-1zM630 731h1v1h-1zM1658 731h2v1h-2zM828 778h2v1h-2zM836 778h2v1h-2zM843 778h2v1h-2zM853 778h2v1h-2zM832 780h2v1h-2zM846 780h1v1h-1zM851 780h1v1h-1zM168 728h1v1h-1zM269 728h1v1h-1zM280 728h2v1h-2zM308 728h1v1h-1zM615 728h1v1h-1zM627 728h1v1h-1zM1664 728h1v1h-1zM165 730h2v1h-2zM271 730h1v1h-1zM276 730h2v1h-2zM310 730h1v1h-1zM612 730h1v1h-1zM629 730h1v1h-1zM1660 730h2v1h-2zM173 724h1v1h-1zM266 724h1v1h-1zM286 724h1v1h-1zM306 724h1v1h-1zM230 710h2v1h-2zM242 710h1v1h-1zM162 733h1v1h-1zM312 733h1v1h-1zM608 733h2v1h-2zM631 733h1v1h-1zM1657 733h1v1h-1zM182 718h2v1h-2zM186 718h1v1h-1zM205 718h2v1h-2zM246 718h1v1h-1zM219 715h2v1h-2zM245 715h1v1h-1zM224 713h2v1h-2zM244 713h1v1h-1zM226 712h2v1h-2zM243 712h1v1h-1zM849 782h1v1h-1z"/>
</g>
<g shape-rendering="crispEdges" fill="#000">
<rect x="0" y="0" width="1" height="562"/>
<rect x="0" y="563" width="1" height="126"/>
<rect x="0" y="690" width="1" height="126"/>
<rect x="1686" y="0" width="1" height="562"/>
<rect x="1686" y="563" width="1" height="126"/>
<rect x="1686" y="690" width="1" height="126"/>
<rect x="0" y="561" width="1687" height="1"/>
<rect x="0" y="563" width="1687" height="1"/>
<rect x="0" y="688" width="1687" height="1"/>
<rect x="0" y="690" width="1687" height="1"/>
<rect x="0" y="815" width="1687" height="1"/>
<rect x="1687" y="30" width="2" height="1"/>
<rect x="1687" y="63" width="2" height="1"/>
<rect x="1687" y="96" width="2" height="1"/>
<rect x="1687" y="129" width="2" height="1"/>
<rect x="1687" y="162" width="2" height="1"/>
<rect x="1687" y="195" width="2" height="1"/>
<rect x="1687" y="228" width="2" height="1"/>
<rect x="1687" y="261" width="2" height="1"/>
<rect x="1687" y="294" width="2" height="1"/>
<rect x="1687" y="327" width="2" height="1"/>
<rect x="1687" y="360" width="2" height="1"/>
<rect x="1687" y="393" width="2" height="1"/>
<rect x="1687" y="426" width="2" height="1"/>
<rect x="1687" y="459" width="2" height="1"/>
<rect x="1687" y="492" width="2" height="1"/>
<rect x="1687" y="525" width="2" height="1"/>
<rect x="1687" y="558" width="2" height="1"/>
<rect x="1687" y="565" width="1" height="1"/>
<rect x="1687" y="625" width="1" height="1"/>
<rect x="1687" y="687" width="1" height="1"/>
<rect x="1687" y="692" width="1" height="1"/>
<rect x="1687" y="814" width="1" height="1"/>
<rect x="1" y="816" width="1" height="3"/>
<rect x="65" y="816" width="1" height="3"/>
<rect x="129" y="816" width="1" height="3"/>
<rect x="193" y="816" width="1" height="3"/>
<rect x="257" y="816" width="1" height="3"/>
<rect x="321" y="816" width="1" height="3"/>
<rect x="385" y="816" width="1" height="3"/>
<rect x="449" y="816" width="1" height="3"/>
<rect x="513" y="816" width="1" height="3"/>
<rect x="577" y="816" width="1" height="3"/>
<rect x="641" y="816" width="1" height="3"/>
<rect x="705" y="816" width="1" height="3"/>
<rect x="769" y="816" width="1" height="3"/>
<rect x="833" y="816" width="1" height="3"/>
<rect x="897" y="816" width="1" height="3"/>
<rect x="961" y="816" width="1" height="3"/>
<rect x="1025" y="816" width="1" height="3"/>
<rect x="1089" y="816" width="1" height="3"/>
<rect x="1153" y="816" width="1" height="3"/>
<rect x="1217" y="816" width="1" height="3"/>
<rect x="1281" y="816" width="1" height="3"/>
<rect x="1345" y="816" width="1" height="3"/>
<rect x="1409" y="816" width="1" height="3"/>
<rect x="1473" y="816" width="1" height="3"/>
<rect x="1537" y="816" width="1" height="3"/>
<rect x="1601" y="816" width="1" height="3"/>
<rect x="1665" y="816" width="1" height="3"/>
<path d="M4 6h7v1h-7zM5 7h5v1h-5zM6 8h3v1h-3zM7 9h1v1h-1z"/>
</g>
<g shape-rendering="crispEdges">
<rect x="1686" y="187" width="1" height="2" fill="#ff0000"/>
<rect x="1686" y="270" width="1" height="2" fill="#ff0000"/>
<rect x="1686" y="322" width="1" height="1" fill="#778899"/>
<rect x="1686" y="334" width="1" height="2" fill="#32cd32"/>
<rect x="1686" y="435" width="1" height="2" fill="#4169e1"/>
<rect x="1686" y="536" width="1" height="2" fill="#4169e1"/>
</g>
<g shape-rendering="crispEdges"><rect x="1727" y="0" width="1" height="837" fill="#dcdcdc"/><rect x="0" y="836" width="1728" height="1" fill="#dcdcdc"/><rect x="0" y="838" width="339" height="1" fill="#000"/><rect x="445" y="838" width="1284" height="1" fill="#000"/></g>
<text x="1692" y="34" textLength="28" lengthAdjust="spacingAndGlyphs">5906.0</text>
<text x="1692" y="67" textLength="28" lengthAdjust="spacingAndGlyphs">5838.0</text>
<text x="1692" y="100" textLength="28" lengthAdjust="spacingAndGlyphs">5772.0</text>
<text x="1692" y="133" textLength="28" lengthAdjust="spacingAndGlyphs">5704.0</text>
<text x="1692" y="166" textLength="28" lengthAdjust="spacingAndGlyphs">5638.0</text>
<text x="1692" y="199" textLength="28" lengthAdjust="spacingAndGlyphs">5570.0</text>
<text x="1692" y="232" textLength="28" lengthAdjust="spacingAndGlyphs">5504.0</text>
<text x="1692" y="265" textLength="28" lengthAdjust="spacingAndGlyphs">5436.0</text>
<text x="1692" y="298" textLength="28" lengthAdjust="spacingAndGlyphs">5370.0</text>
<text x="1692" y="331" textLength="28" lengthAdjust="spacingAndGlyphs">5302.0</text>
<text x="1692" y="364" textLength="28" lengthAdjust="spacingAndGlyphs">5236.0</text>
<text x="1692" y="397" textLength="28" lengthAdjust="spacingAndGlyphs">5168.0</text>
<text x="1692" y="430" textLength="28" lengthAdjust="spacingAndGlyphs">5102.0</text>
<text x="1692" y="463" textLength="28" lengthAdjust="spacingAndGlyphs">5034.0</text>
<text x="1692" y="496" textLength="28" lengthAdjust="spacingAndGlyphs">4968.0</text>
<text x="1692" y="529" textLength="28" lengthAdjust="spacingAndGlyphs">4900.0</text>
<text x="1692" y="562" textLength="28" lengthAdjust="spacingAndGlyphs">4834.0</text>
<rect x="1688" y="182" width="36" height="11" fill="#ff0000" shape-rendering="crispEdges"/>
<text x="1692" y="191" class="w" textLength="28" lengthAdjust="spacingAndGlyphs">5585.0</text>
<rect x="1688" y="265" width="36" height="11" fill="#ff0000" shape-rendering="crispEdges"/>
<text x="1692" y="274" class="w" textLength="28" lengthAdjust="spacingAndGlyphs">5415.0</text>
<rect x="1688" y="317" width="36" height="11" fill="#000" shape-rendering="crispEdges"/>
<text x="1692" y="326" class="w" textLength="28" lengthAdjust="spacingAndGlyphs">5312.7</text>
<rect x="1688" y="329" width="36" height="11" fill="#32cd32" shape-rendering="crispEdges"/>
<text x="1692" y="338" class="w" textLength="28" lengthAdjust="spacingAndGlyphs">5285.0</text>
<rect x="1688" y="430" width="36" height="11" fill="#4169e1" shape-rendering="crispEdges"/>
<text x="1692" y="439" class="w" textLength="28" lengthAdjust="spacingAndGlyphs">5080.0</text>
<rect x="1688" y="531" width="36" height="11" fill="#4169e1" shape-rendering="crispEdges"/>
<text x="1692" y="540" class="w" textLength="28" lengthAdjust="spacingAndGlyphs">4875.0</text>
<text x="1690" y="574" textLength="28" lengthAdjust="spacingAndGlyphs">139.86</text>
<text x="1690" y="629" textLength="18" lengthAdjust="spacingAndGlyphs">0.00</text>
<text x="1690" y="685" textLength="31" lengthAdjust="spacingAndGlyphs">-143.82</text>
<text x="1690" y="701" textLength="15" lengthAdjust="spacingAndGlyphs">100</text>
<text x="1689" y="732" textLength="10" lengthAdjust="spacingAndGlyphs">70</text>
<text x="1689" y="782" textLength="10" lengthAdjust="spacingAndGlyphs">30</text>
<text x="1689.5" y="812" textLength="5" lengthAdjust="spacingAndGlyphs">0</text>
<text x="16" y="11" textLength="65" lengthAdjust="spacingAndGlyphs">CHINA300-,H4</text>
<text x="87" y="11" textLength="121" lengthAdjust="spacingAndGlyphs">5259.2 5329.5 5253.0 5312.7</text>
<text x="5" y="576" textLength="118" lengthAdjust="spacingAndGlyphs">MACD(12,26,9) 41.13 31.22</text>
<text x="5" y="703" textLength="68" lengthAdjust="spacingAndGlyphs">RSI(14) 70.8338</text>
<text x="0.2" y="828" textLength="52.2" lengthAdjust="spacingAndGlyphs">16 Dec 2020</text>
<text x="64.2" y="828" textLength="55.2" lengthAdjust="spacingAndGlyphs">22 Dec 05:00</text>
<text x="128.2" y="828" textLength="55.2" lengthAdjust="spacingAndGlyphs">28 Dec 05:00</text>
<text x="192.2" y="828" textLength="49.2" lengthAdjust="spacingAndGlyphs">4 Jan 05:00</text>
<text x="256.2" y="828" textLength="49.2" lengthAdjust="spacingAndGlyphs">8 Jan 05:00</text>
<text x="320.2" y="828" textLength="54.2" lengthAdjust="spacingAndGlyphs">14 Jan 05:00</text>
<text x="384.2" y="828" textLength="54.2" lengthAdjust="spacingAndGlyphs">20 Jan 05:00</text>
<text x="448.2" y="828" textLength="54.2" lengthAdjust="spacingAndGlyphs">26 Jan 05:00</text>
<text x="512.2" y="828" textLength="50.2" lengthAdjust="spacingAndGlyphs">1 Feb 05:00</text>
<text x="576.2" y="828" textLength="50.2" lengthAdjust="spacingAndGlyphs">5 Feb 05:00</text>
<text x="640.2" y="828" textLength="55.2" lengthAdjust="spacingAndGlyphs">18 Feb 05:00</text>
<text x="704.2" y="828" textLength="55.2" lengthAdjust="spacingAndGlyphs">24 Feb 05:00</text>
<text x="768.2" y="828" textLength="50.2" lengthAdjust="spacingAndGlyphs">2 Mar 05:00</text>
<text x="832.2" y="828" textLength="50.2" lengthAdjust="spacingAndGlyphs">8 Mar 05:00</text>
<text x="896.2" y="828" textLength="55.2" lengthAdjust="spacingAndGlyphs">12 Mar 05:00</text>
<text x="960.2" y="828" textLength="55.2" lengthAdjust="spacingAndGlyphs">18 Mar 05:00</text>
<text x="1024.2" y="828" textLength="55.2" lengthAdjust="spacingAndGlyphs">24 Mar 05:00</text>
<text x="1088.2" y="828" textLength="55.2" lengthAdjust="spacingAndGlyphs">30 Mar 05:00</text>
<text x="1152.2" y="828" textLength="49.2" lengthAdjust="spacingAndGlyphs">6 Apr 05:00</text>
<text x="1216.2" y="828" textLength="54.2" lengthAdjust="spacingAndGlyphs">12 Apr 05:00</text>
<text x="1280.2" y="828" textLength="54.2" lengthAdjust="spacingAndGlyphs">16 Apr 05:00</text>
<text x="1344.2" y="828" textLength="54.2" lengthAdjust="spacingAndGlyphs">22 Apr 05:00</text>
<text x="1408.2" y="828" textLength="54.2" lengthAdjust="spacingAndGlyphs">28 Apr 05:00</text>
<text x="1472.2" y="828" textLength="52.2" lengthAdjust="spacingAndGlyphs">7 May 05:00</text>
<text x="1536.2" y="828" textLength="57.2" lengthAdjust="spacingAndGlyphs">13 May 05:00</text>
<text x="1600.2" y="828" textLength="57.2" lengthAdjust="spacingAndGlyphs">19 May 05:00</text>
<text x="1664.2" y="828" textLength="57.2" lengthAdjust="spacingAndGlyphs">25 May 05:00</text>
<text class="note" x="1191.5" y="242.7">多空转折点5285</text>
</svg></body></html>
